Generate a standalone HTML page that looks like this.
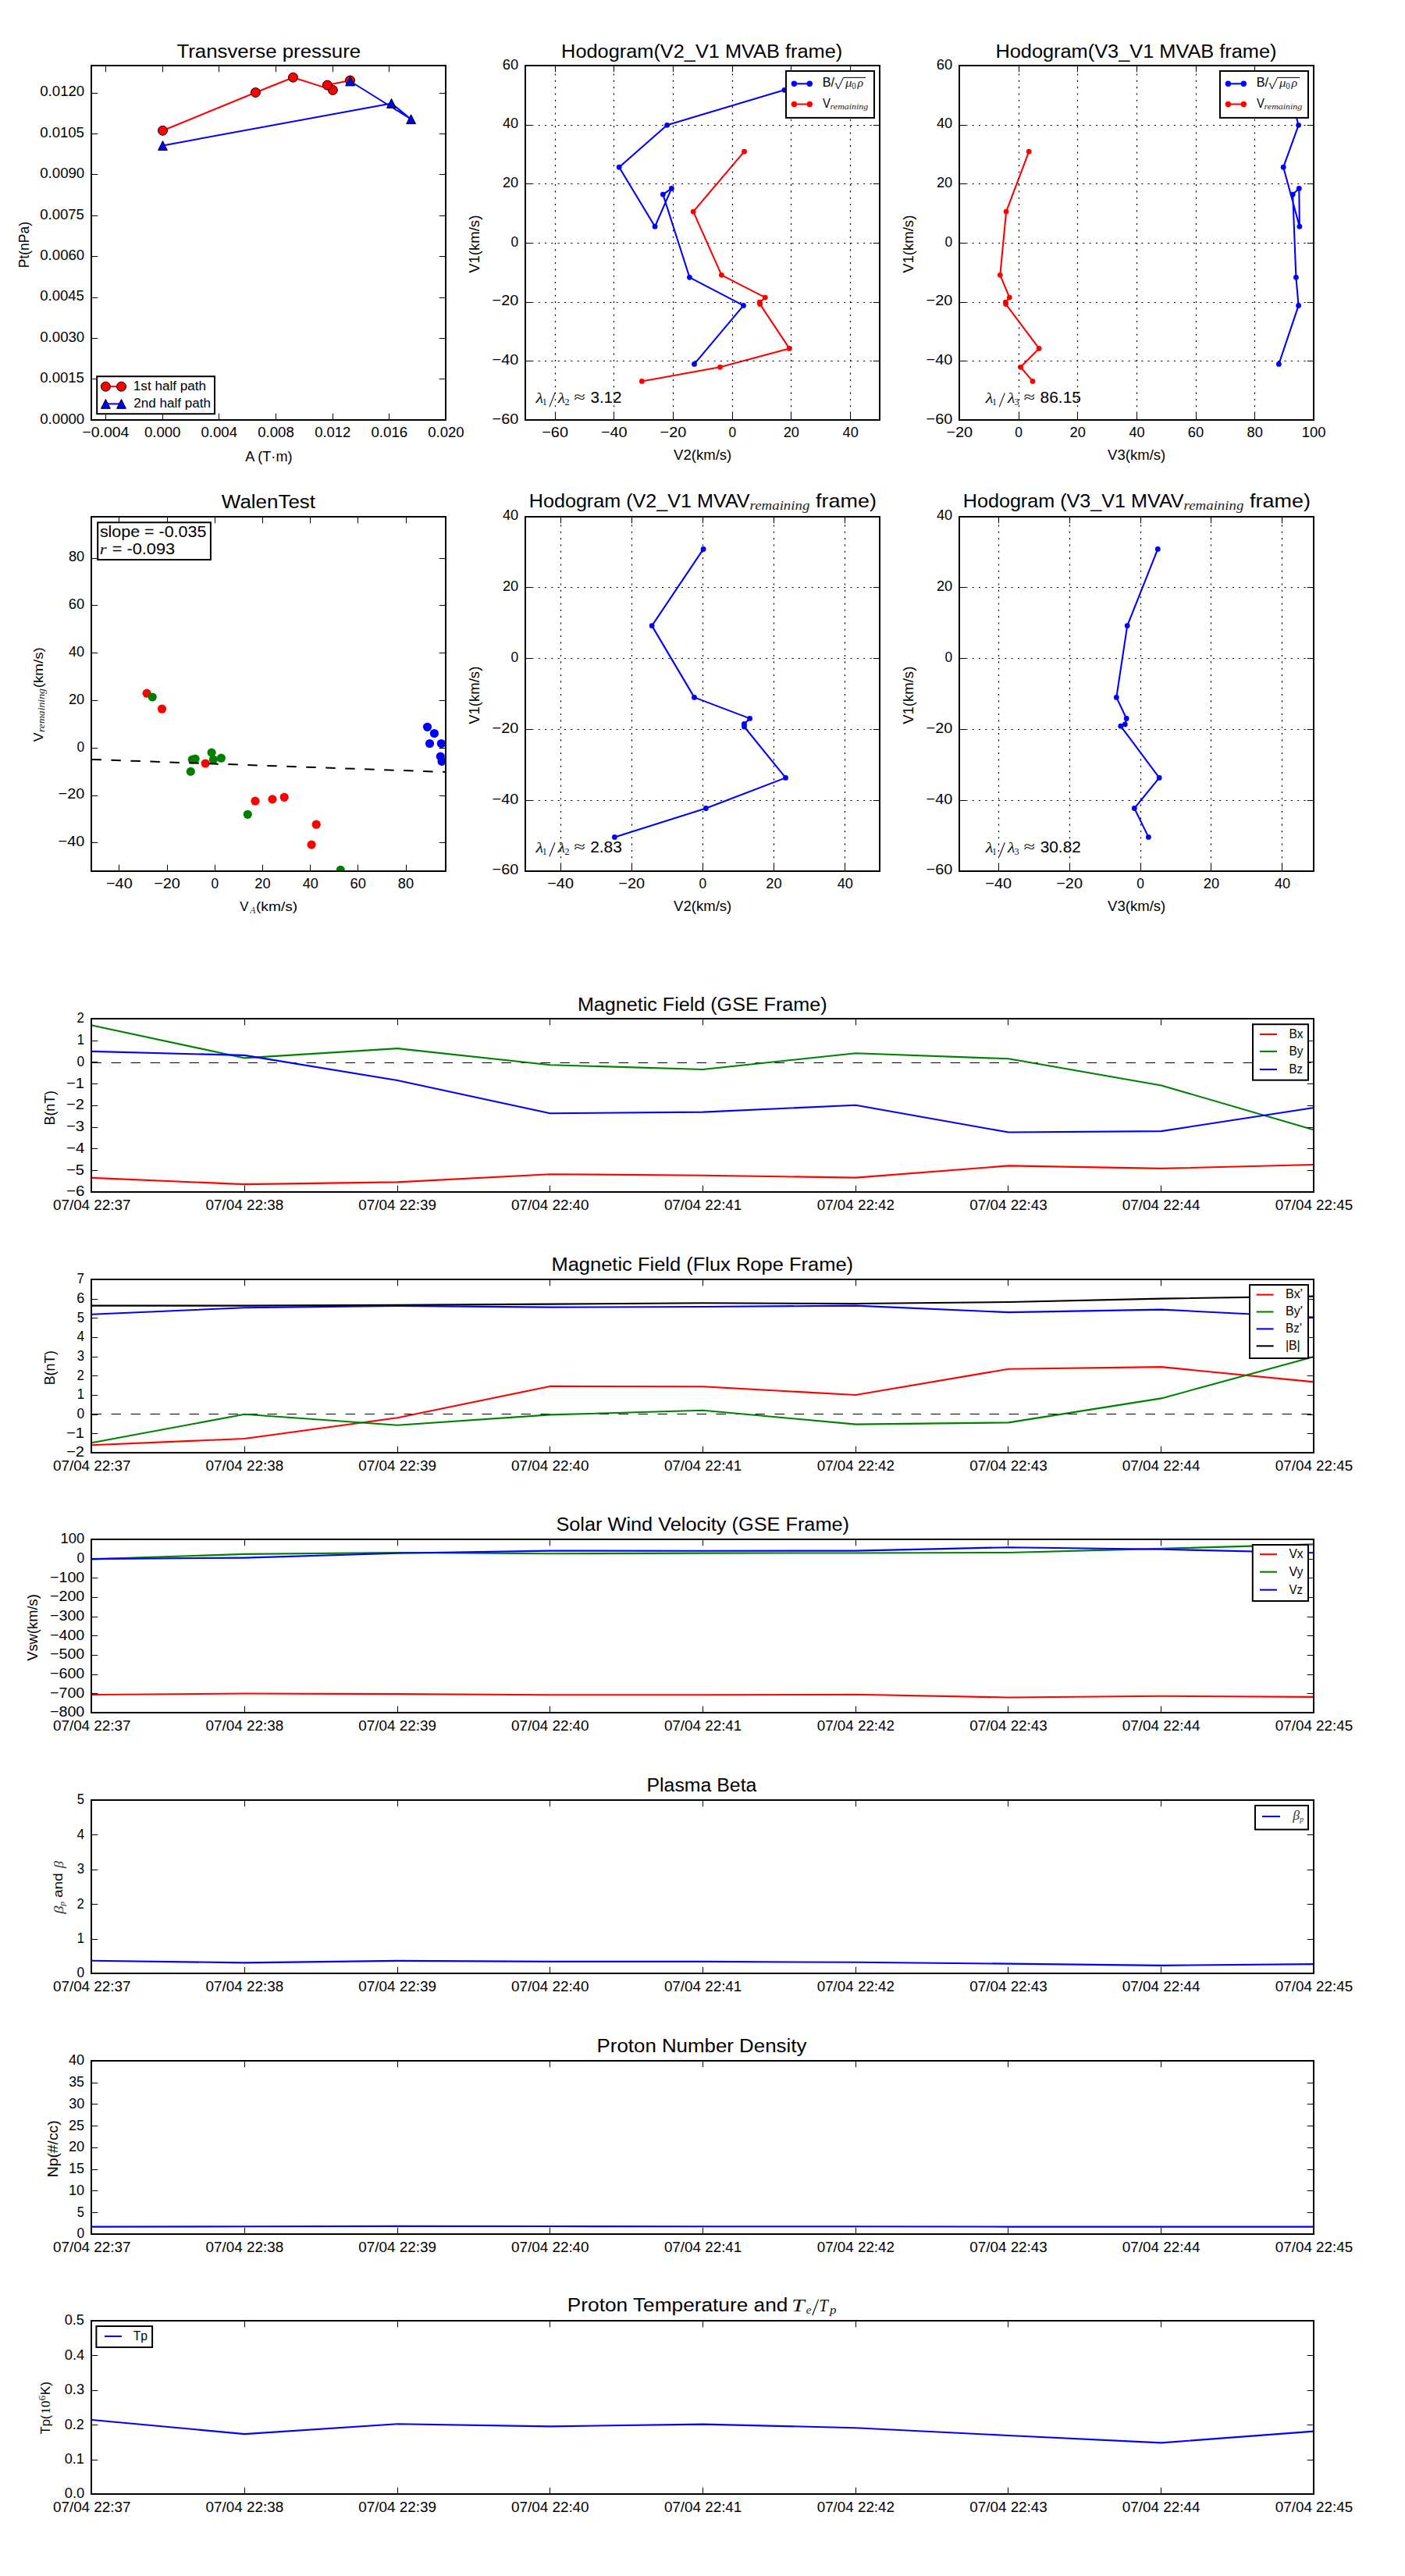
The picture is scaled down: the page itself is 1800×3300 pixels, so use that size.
<!DOCTYPE html>
<html><head><meta charset="utf-8"><title>Flux rope analysis</title><style>html,body{margin:0;padding:0;background:#fff}svg{display:block}</style></head><body>
<svg width="1800" height="3300" viewBox="0 0 1800 3300">
<rect width="1800" height="3300" fill="#fff"/>
<polyline points="208.5,167.3 327.4,118.5 375.5,99.2 426.4,115.4 419.4,109.1 448.5,103" fill="none" stroke="#ff0000" stroke-width="2" stroke-linecap="butt" stroke-linejoin="round"/>
<circle cx="208.5" cy="167.3" r="6" fill="#ff0000" stroke="#000" stroke-width="1"/>
<circle cx="327.4" cy="118.5" r="6" fill="#ff0000" stroke="#000" stroke-width="1"/>
<circle cx="375.5" cy="99.2" r="6" fill="#ff0000" stroke="#000" stroke-width="1"/>
<circle cx="426.4" cy="115.4" r="6" fill="#ff0000" stroke="#000" stroke-width="1"/>
<circle cx="419.4" cy="109.1" r="6" fill="#ff0000" stroke="#000" stroke-width="1"/>
<circle cx="448.5" cy="103" r="6" fill="#ff0000" stroke="#000" stroke-width="1"/>
<polyline points="208.5,186.5 501.5,132.4 526.6,152.7 448.6,104" fill="none" stroke="#0000ff" stroke-width="2" stroke-linecap="butt" stroke-linejoin="round"/>
<polygon points="208.5,180.6 202.6,192.4 214.4,192.4" fill="#0000ff" stroke="#000" stroke-width="1"/>
<polygon points="501.5,126.5 495.6,138.3 507.4,138.3" fill="#0000ff" stroke="#000" stroke-width="1"/>
<polygon points="526.6,146.8 520.7,158.6 532.5,158.6" fill="#0000ff" stroke="#000" stroke-width="1"/>
<polygon points="448.6,98.1 442.7,109.9 454.5,109.9" fill="#0000ff" stroke="#000" stroke-width="1"/>
<rect x="117" y="84" width="454" height="454" fill="none" stroke="#000" stroke-width="2"/>
<path d="M135.5 538V529.7M135.5 84V92.3" fill="none" stroke="#000" stroke-width="1"/>
<text x="105.41" y="559.7" textLength="59.91" lengthAdjust="spacingAndGlyphs" style="font-family:'Liberation Sans',sans-serif;font-size:18.32px" fill="#000">−0.004</text>
<path d="M208.5 538V529.7M208.5 84V92.3" fill="none" stroke="#000" stroke-width="1"/>
<text x="184.95" y="559.7" textLength="46.5" lengthAdjust="spacingAndGlyphs" style="font-family:'Liberation Sans',sans-serif;font-size:18.32px" fill="#000">0.000</text>
<path d="M280.5 538V529.7M280.5 84V92.3" fill="none" stroke="#000" stroke-width="1"/>
<text x="257.5" y="559.7" textLength="46.49" lengthAdjust="spacingAndGlyphs" style="font-family:'Liberation Sans',sans-serif;font-size:18.32px" fill="#000">0.004</text>
<path d="M353.5 538V529.7M353.5 84V92.3" fill="none" stroke="#000" stroke-width="1"/>
<text x="330.24" y="559.7" textLength="46.56" lengthAdjust="spacingAndGlyphs" style="font-family:'Liberation Sans',sans-serif;font-size:18.32px" fill="#000">0.008</text>
<path d="M426.5 538V529.7M426.5 84V92.3" fill="none" stroke="#000" stroke-width="1"/>
<text x="403.15" y="559.7" textLength="46.14" lengthAdjust="spacingAndGlyphs" style="font-family:'Liberation Sans',sans-serif;font-size:18.32px" fill="#000">0.012</text>
<path d="M498.5 538V529.7M498.5 84V92.3" fill="none" stroke="#000" stroke-width="1"/>
<text x="475.48" y="559.7" textLength="46.66" lengthAdjust="spacingAndGlyphs" style="font-family:'Liberation Sans',sans-serif;font-size:18.32px" fill="#000">0.016</text>
<path d="M571.5 538V529.7M571.5 84V92.3" fill="none" stroke="#000" stroke-width="1"/>
<text x="548.15" y="559.7" textLength="46.5" lengthAdjust="spacingAndGlyphs" style="font-family:'Liberation Sans',sans-serif;font-size:18.32px" fill="#000">0.020</text>
<path d="M117 538.5H125.3M571 538.5H562.7" fill="none" stroke="#000" stroke-width="1"/>
<text x="51.23" y="542.5" textLength="57.01" lengthAdjust="spacingAndGlyphs" style="font-family:'Liberation Sans',sans-serif;font-size:18.32px" fill="#000">0.0000</text>
<path d="M117 485.5H125.3M571 485.5H562.7" fill="none" stroke="#000" stroke-width="1"/>
<text x="51.23" y="490.12" textLength="56.71" lengthAdjust="spacingAndGlyphs" style="font-family:'Liberation Sans',sans-serif;font-size:18.32px" fill="#000">0.0015</text>
<path d="M117 433.5H125.3M571 433.5H562.7" fill="none" stroke="#000" stroke-width="1"/>
<text x="51.23" y="437.73" textLength="57.01" lengthAdjust="spacingAndGlyphs" style="font-family:'Liberation Sans',sans-serif;font-size:18.32px" fill="#000">0.0030</text>
<path d="M117 381.5H125.3M571 381.5H562.7" fill="none" stroke="#000" stroke-width="1"/>
<text x="51.23" y="385.35" textLength="56.71" lengthAdjust="spacingAndGlyphs" style="font-family:'Liberation Sans',sans-serif;font-size:18.32px" fill="#000">0.0045</text>
<path d="M117 328.5H125.3M571 328.5H562.7" fill="none" stroke="#000" stroke-width="1"/>
<text x="51.23" y="332.96" textLength="57.01" lengthAdjust="spacingAndGlyphs" style="font-family:'Liberation Sans',sans-serif;font-size:18.32px" fill="#000">0.0060</text>
<path d="M117 276.5H125.3M571 276.5H562.7" fill="none" stroke="#000" stroke-width="1"/>
<text x="51.23" y="280.58" textLength="56.71" lengthAdjust="spacingAndGlyphs" style="font-family:'Liberation Sans',sans-serif;font-size:18.32px" fill="#000">0.0075</text>
<path d="M117 223.5H125.3M571 223.5H562.7" fill="none" stroke="#000" stroke-width="1"/>
<text x="51.23" y="228.19" textLength="57.01" lengthAdjust="spacingAndGlyphs" style="font-family:'Liberation Sans',sans-serif;font-size:18.32px" fill="#000">0.0090</text>
<path d="M117 171.5H125.3M571 171.5H562.7" fill="none" stroke="#000" stroke-width="1"/>
<text x="51.23" y="175.81" textLength="56.71" lengthAdjust="spacingAndGlyphs" style="font-family:'Liberation Sans',sans-serif;font-size:18.32px" fill="#000">0.0105</text>
<path d="M117 119.5H125.3M571 119.5H562.7" fill="none" stroke="#000" stroke-width="1"/>
<text x="51.23" y="123.42" textLength="57.01" lengthAdjust="spacingAndGlyphs" style="font-family:'Liberation Sans',sans-serif;font-size:18.32px" fill="#000">0.0120</text>
<text x="226.41" y="73.8" textLength="235.74" lengthAdjust="spacingAndGlyphs" style="font-family:'Liberation Sans',sans-serif;font-size:24.15px" fill="#000">Transverse pressure</text>
<text x="314.14" y="590.9" textLength="60.4" lengthAdjust="spacingAndGlyphs" style="font-family:'Liberation Sans',sans-serif;font-size:18.32px" fill="#000">A (T·m)</text>
<text x="0" y="0" transform="translate(37 343.22) rotate(-90)" textLength="59.29" lengthAdjust="spacingAndGlyphs" style="font-family:'Liberation Sans',sans-serif;font-size:18.32px" fill="#000">Pt(nPa)</text>
<rect x="124.2" y="482.2" width="150.8" height="48" fill="#fff" stroke="#000" stroke-width="2"/>
<polyline points="135.4,495.2 155.5,495.2" fill="none" stroke="#ff0000" stroke-width="2" stroke-linecap="butt" stroke-linejoin="round"/>
<circle cx="135.4" cy="495.2" r="6" fill="#ff0000" stroke="#000" stroke-width="1"/>
<circle cx="155.5" cy="495.2" r="6" fill="#ff0000" stroke="#000" stroke-width="1"/>
<polyline points="135.4,517.4 155.5,517.4" fill="none" stroke="#0000ff" stroke-width="2" stroke-linecap="butt" stroke-linejoin="round"/>
<polygon points="135.4,511.5 129.5,523.3 141.3,523.3" fill="#0000ff" stroke="#000" stroke-width="1"/>
<polygon points="155.5,511.5 149.6,523.3 161.4,523.3" fill="#0000ff" stroke="#000" stroke-width="1"/>
<text x="170.8" y="500.1" textLength="93.29" lengthAdjust="spacingAndGlyphs" style="font-family:'Liberation Sans',sans-serif;font-size:17.02px" fill="#000">1st half path</text>
<text x="171.24" y="522.3" textLength="98.64" lengthAdjust="spacingAndGlyphs" style="font-family:'Liberation Sans',sans-serif;font-size:17.02px" fill="#000">2nd half path</text>
<polyline points="1004.9,115.3 854.6,160.3 793.2,214.2 839.1,290.2 860.4,241.4 849.4,249.1 883.4,355.3 952.5,391.4 889.5,466.4" fill="none" stroke="#0000ff" stroke-width="2.08" stroke-linecap="butt" stroke-linejoin="round"/>
<circle cx="1004.9" cy="115.3" r="3.4" fill="#0000ff" stroke="none" stroke-width="1"/>
<circle cx="854.6" cy="160.3" r="3.4" fill="#0000ff" stroke="none" stroke-width="1"/>
<circle cx="793.2" cy="214.2" r="3.4" fill="#0000ff" stroke="none" stroke-width="1"/>
<circle cx="839.1" cy="290.2" r="3.4" fill="#0000ff" stroke="none" stroke-width="1"/>
<circle cx="860.4" cy="241.4" r="3.4" fill="#0000ff" stroke="none" stroke-width="1"/>
<circle cx="849.4" cy="249.1" r="3.4" fill="#0000ff" stroke="none" stroke-width="1"/>
<circle cx="883.4" cy="355.3" r="3.4" fill="#0000ff" stroke="none" stroke-width="1"/>
<circle cx="952.5" cy="391.4" r="3.4" fill="#0000ff" stroke="none" stroke-width="1"/>
<circle cx="889.5" cy="466.4" r="3.4" fill="#0000ff" stroke="none" stroke-width="1"/>
<polyline points="953.5,194.2 888.2,271.1 924.4,352.3 980.3,381.1 973.3,387.2 973.6,389.6 1011.3,446.4 922.5,470.3 822.3,488.4" fill="none" stroke="#ff0000" stroke-width="2.08" stroke-linecap="butt" stroke-linejoin="round"/>
<circle cx="953.5" cy="194.2" r="3.4" fill="#ff0000" stroke="none" stroke-width="1"/>
<circle cx="888.2" cy="271.1" r="3.4" fill="#ff0000" stroke="none" stroke-width="1"/>
<circle cx="924.4" cy="352.3" r="3.4" fill="#ff0000" stroke="none" stroke-width="1"/>
<circle cx="980.3" cy="381.1" r="3.4" fill="#ff0000" stroke="none" stroke-width="1"/>
<circle cx="973.3" cy="387.2" r="3.4" fill="#ff0000" stroke="none" stroke-width="1"/>
<circle cx="973.6" cy="389.6" r="3.4" fill="#ff0000" stroke="none" stroke-width="1"/>
<circle cx="1011.3" cy="446.4" r="3.4" fill="#ff0000" stroke="none" stroke-width="1"/>
<circle cx="922.5" cy="470.3" r="3.4" fill="#ff0000" stroke="none" stroke-width="1"/>
<circle cx="822.3" cy="488.4" r="3.4" fill="#ff0000" stroke="none" stroke-width="1"/>
<path d="M711.5 538V84" fill="none" stroke="#000" stroke-width="1.2" stroke-dasharray="2.08 6.25"/>
<path d="M786.5 538V84" fill="none" stroke="#000" stroke-width="1.2" stroke-dasharray="2.08 6.25"/>
<path d="M862.5 538V84" fill="none" stroke="#000" stroke-width="1.2" stroke-dasharray="2.08 6.25"/>
<path d="M938.5 538V84" fill="none" stroke="#000" stroke-width="1.2" stroke-dasharray="2.08 6.25"/>
<path d="M1013.5 538V84" fill="none" stroke="#000" stroke-width="1.2" stroke-dasharray="2.08 6.25"/>
<path d="M1089.5 538V84" fill="none" stroke="#000" stroke-width="1.2" stroke-dasharray="2.08 6.25"/>
<path d="M673 462.5H1127" fill="none" stroke="#000" stroke-width="1.2" stroke-dasharray="2.08 6.25"/>
<path d="M673 387.5H1127" fill="none" stroke="#000" stroke-width="1.2" stroke-dasharray="2.08 6.25"/>
<path d="M673 311.5H1127" fill="none" stroke="#000" stroke-width="1.2" stroke-dasharray="2.08 6.25"/>
<path d="M673 235.5H1127" fill="none" stroke="#000" stroke-width="1.2" stroke-dasharray="2.08 6.25"/>
<path d="M673 160.5H1127" fill="none" stroke="#000" stroke-width="1.2" stroke-dasharray="2.08 6.25"/>
<rect x="673" y="84" width="454" height="454" fill="none" stroke="#000" stroke-width="2"/>
<path d="M711.5 538V529.7M711.5 84V92.3" fill="none" stroke="#000" stroke-width="1"/>
<text x="694.26" y="559.7" textLength="33.73" lengthAdjust="spacingAndGlyphs" style="font-family:'Liberation Sans',sans-serif;font-size:18.32px" fill="#000">−60</text>
<path d="M786.5 538V529.7M786.5 84V92.3" fill="none" stroke="#000" stroke-width="1"/>
<text x="769.93" y="559.7" textLength="33.73" lengthAdjust="spacingAndGlyphs" style="font-family:'Liberation Sans',sans-serif;font-size:18.32px" fill="#000">−40</text>
<path d="M862.5 538V529.7M862.5 84V92.3" fill="none" stroke="#000" stroke-width="1"/>
<text x="845.6" y="559.7" textLength="33.73" lengthAdjust="spacingAndGlyphs" style="font-family:'Liberation Sans',sans-serif;font-size:18.32px" fill="#000">−20</text>
<path d="M938.5 538V529.7M938.5 84V92.3" fill="none" stroke="#000" stroke-width="1"/>
<text x="933.4" y="559.7" textLength="9.67" lengthAdjust="spacingAndGlyphs" style="font-family:'Liberation Sans',sans-serif;font-size:18.32px" fill="#000">0</text>
<path d="M1013.5 538V529.7M1013.5 84V92.3" fill="none" stroke="#000" stroke-width="1"/>
<text x="1003.64" y="559.7" textLength="20.32" lengthAdjust="spacingAndGlyphs" style="font-family:'Liberation Sans',sans-serif;font-size:18.32px" fill="#000">20</text>
<path d="M1089.5 538V529.7M1089.5 84V92.3" fill="none" stroke="#000" stroke-width="1"/>
<text x="1079.6" y="559.7" textLength="20.22" lengthAdjust="spacingAndGlyphs" style="font-family:'Liberation Sans',sans-serif;font-size:18.32px" fill="#000">40</text>
<path d="M673 538.5H681.3M1127 538.5H1118.7" fill="none" stroke="#000" stroke-width="1"/>
<text x="630.55" y="542.7" textLength="33.73" lengthAdjust="spacingAndGlyphs" style="font-family:'Liberation Sans',sans-serif;font-size:18.32px" fill="#000">−60</text>
<path d="M673 462.5H681.3M1127 462.5H1118.7" fill="none" stroke="#000" stroke-width="1"/>
<text x="630.55" y="467.03" textLength="33.73" lengthAdjust="spacingAndGlyphs" style="font-family:'Liberation Sans',sans-serif;font-size:18.32px" fill="#000">−40</text>
<path d="M673 387.5H681.3M1127 387.5H1118.7" fill="none" stroke="#000" stroke-width="1"/>
<text x="630.55" y="391.37" textLength="33.73" lengthAdjust="spacingAndGlyphs" style="font-family:'Liberation Sans',sans-serif;font-size:18.32px" fill="#000">−20</text>
<path d="M673 311.5H681.3M1127 311.5H1118.7" fill="none" stroke="#000" stroke-width="1"/>
<text x="654.51" y="315.7" textLength="9.67" lengthAdjust="spacingAndGlyphs" style="font-family:'Liberation Sans',sans-serif;font-size:18.32px" fill="#000">0</text>
<path d="M673 235.5H681.3M1127 235.5H1118.7" fill="none" stroke="#000" stroke-width="1"/>
<text x="643.89" y="240.03" textLength="20.32" lengthAdjust="spacingAndGlyphs" style="font-family:'Liberation Sans',sans-serif;font-size:18.32px" fill="#000">20</text>
<path d="M673 160.5H681.3M1127 160.5H1118.7" fill="none" stroke="#000" stroke-width="1"/>
<text x="643.99" y="164.37" textLength="20.22" lengthAdjust="spacingAndGlyphs" style="font-family:'Liberation Sans',sans-serif;font-size:18.32px" fill="#000">40</text>
<path d="M673 84.5H681.3M1127 84.5H1118.7" fill="none" stroke="#000" stroke-width="1"/>
<text x="643.83" y="88.7" textLength="20.4" lengthAdjust="spacingAndGlyphs" style="font-family:'Liberation Sans',sans-serif;font-size:18.32px" fill="#000">60</text>
<rect x="1007" y="91" width="113" height="59.9" fill="#fff" stroke="#000" stroke-width="2"/>
<polyline points="1017.4,107.3 1037.3,107.3" fill="none" stroke="#0000ff" stroke-width="2.08" stroke-linecap="butt" stroke-linejoin="round"/>
<circle cx="1017.4" cy="107.3" r="3.7" fill="#0000ff" stroke="none" stroke-width="1"/>
<circle cx="1037.3" cy="107.3" r="3.7" fill="#0000ff" stroke="none" stroke-width="1"/>
<polyline points="1017.4,133.5 1037.3,133.5" fill="none" stroke="#ff0000" stroke-width="2.08" stroke-linecap="butt" stroke-linejoin="round"/>
<circle cx="1017.4" cy="133.5" r="3.7" fill="#ff0000" stroke="none" stroke-width="1"/>
<circle cx="1037.3" cy="133.5" r="3.7" fill="#ff0000" stroke="none" stroke-width="1"/>
<text x="1053.67" y="111" textLength="15.33" lengthAdjust="spacingAndGlyphs" style="font-family:'Liberation Sans',sans-serif;font-size:16.2px" fill="#000">B/</text>
<path d="M1069.7 107.6L1071.2 106.8L1073.6 114L1080.6 99.4H1109" fill="none" stroke="#000" stroke-width="1"/>
<text x="1083.12" y="111" textLength="8.44" lengthAdjust="spacingAndGlyphs" style="font-family:'Liberation Serif',sans-serif;font-size:15px;font-style:italic" fill="#222">μ</text>
<text x="1091.29" y="113.6" textLength="5.43" lengthAdjust="spacingAndGlyphs" style="font-family:'Liberation Serif',sans-serif;font-size:11.5px" fill="#222">0</text>
<text x="1098.5" y="111" textLength="7.58" lengthAdjust="spacingAndGlyphs" style="font-family:'Liberation Serif',sans-serif;font-size:15px;font-style:italic" fill="#222">ρ</text>
<text x="1054.03" y="138" textLength="9.93" lengthAdjust="spacingAndGlyphs" style="font-family:'Liberation Sans',sans-serif;font-size:16.2px" fill="#000">V</text>
<text x="1063.62" y="139.9" textLength="48.73" lengthAdjust="spacingAndGlyphs" style="font-family:'Liberation Serif',sans-serif;font-size:11.2px;font-style:italic" fill="#222">remaining</text>
<text x="686.55" y="515.9" textLength="9.71" lengthAdjust="spacingAndGlyphs" style="font-family:'Liberation Serif',sans-serif;font-size:19px;font-style:italic" fill="#111">λ</text>
<text x="694.65" y="518.7" textLength="5.97" lengthAdjust="spacingAndGlyphs" style="font-family:'Liberation Serif',sans-serif;font-size:12.5px" fill="#111">1</text>
<path d="M703.9 521.4L711 503.4" fill="none" stroke="#111" stroke-width="1.1"/>
<text x="714.72" y="515.9" textLength="9.31" lengthAdjust="spacingAndGlyphs" style="font-family:'Liberation Serif',sans-serif;font-size:19px;font-style:italic" fill="#111">λ</text>
<text x="723.34" y="518.7" textLength="6.36" lengthAdjust="spacingAndGlyphs" style="font-family:'Liberation Serif',sans-serif;font-size:12.5px" fill="#111">2</text>
<text x="735.26" y="515.3" textLength="14.62" lengthAdjust="spacingAndGlyphs" style="font-family:'Liberation Serif',sans-serif;font-size:19px" fill="#111">≈</text>
<text x="756.41" y="515.9" textLength="40.16" lengthAdjust="spacingAndGlyphs" style="font-family:'Liberation Sans',sans-serif;font-size:19.92px" fill="#000">3.12</text>
<text x="719.1" y="73.8" textLength="360.09" lengthAdjust="spacingAndGlyphs" style="font-family:'Liberation Sans',sans-serif;font-size:24.15px" fill="#000">Hodogram(V2_V1 MVAB frame)</text>
<text x="863.12" y="588.8" textLength="74.13" lengthAdjust="spacingAndGlyphs" style="font-family:'Liberation Sans',sans-serif;font-size:18.32px" fill="#000">V2(km/s)</text>
<text x="0" y="0" transform="translate(613.8 349.83) rotate(-90)" textLength="74.13" lengthAdjust="spacingAndGlyphs" style="font-family:'Liberation Sans',sans-serif;font-size:18.32px" fill="#000">V1(km/s)</text>
<polyline points="1651,115.3 1663.6,160.3 1644.2,214.2 1664.9,290.2 1664.3,241.4 1656.2,249.1 1660.4,355.3 1663.6,391.4 1638.4,466.4" fill="none" stroke="#0000ff" stroke-width="2.08" stroke-linecap="butt" stroke-linejoin="round"/>
<circle cx="1651" cy="115.3" r="3.4" fill="#0000ff" stroke="none" stroke-width="1"/>
<circle cx="1663.6" cy="160.3" r="3.4" fill="#0000ff" stroke="none" stroke-width="1"/>
<circle cx="1644.2" cy="214.2" r="3.4" fill="#0000ff" stroke="none" stroke-width="1"/>
<circle cx="1664.9" cy="290.2" r="3.4" fill="#0000ff" stroke="none" stroke-width="1"/>
<circle cx="1664.3" cy="241.4" r="3.4" fill="#0000ff" stroke="none" stroke-width="1"/>
<circle cx="1656.2" cy="249.1" r="3.4" fill="#0000ff" stroke="none" stroke-width="1"/>
<circle cx="1660.4" cy="355.3" r="3.4" fill="#0000ff" stroke="none" stroke-width="1"/>
<circle cx="1663.6" cy="391.4" r="3.4" fill="#0000ff" stroke="none" stroke-width="1"/>
<circle cx="1638.4" cy="466.4" r="3.4" fill="#0000ff" stroke="none" stroke-width="1"/>
<polyline points="1318.2,194.2 1289.1,271.1 1281.3,352.3 1293.3,381.1 1288.3,387.2 1288.6,389.6 1331.1,446.4 1307.5,470.3 1323,488.4" fill="none" stroke="#ff0000" stroke-width="2.08" stroke-linecap="butt" stroke-linejoin="round"/>
<circle cx="1318.2" cy="194.2" r="3.4" fill="#ff0000" stroke="none" stroke-width="1"/>
<circle cx="1289.1" cy="271.1" r="3.4" fill="#ff0000" stroke="none" stroke-width="1"/>
<circle cx="1281.3" cy="352.3" r="3.4" fill="#ff0000" stroke="none" stroke-width="1"/>
<circle cx="1293.3" cy="381.1" r="3.4" fill="#ff0000" stroke="none" stroke-width="1"/>
<circle cx="1288.3" cy="387.2" r="3.4" fill="#ff0000" stroke="none" stroke-width="1"/>
<circle cx="1288.6" cy="389.6" r="3.4" fill="#ff0000" stroke="none" stroke-width="1"/>
<circle cx="1331.1" cy="446.4" r="3.4" fill="#ff0000" stroke="none" stroke-width="1"/>
<circle cx="1307.5" cy="470.3" r="3.4" fill="#ff0000" stroke="none" stroke-width="1"/>
<circle cx="1323" cy="488.4" r="3.4" fill="#ff0000" stroke="none" stroke-width="1"/>
<path d="M1305.5 538V84" fill="none" stroke="#000" stroke-width="1.2" stroke-dasharray="2.08 6.25"/>
<path d="M1380.5 538V84" fill="none" stroke="#000" stroke-width="1.2" stroke-dasharray="2.08 6.25"/>
<path d="M1456.5 538V84" fill="none" stroke="#000" stroke-width="1.2" stroke-dasharray="2.08 6.25"/>
<path d="M1532.5 538V84" fill="none" stroke="#000" stroke-width="1.2" stroke-dasharray="2.08 6.25"/>
<path d="M1607.5 538V84" fill="none" stroke="#000" stroke-width="1.2" stroke-dasharray="2.08 6.25"/>
<path d="M1229 462.5H1683" fill="none" stroke="#000" stroke-width="1.2" stroke-dasharray="2.08 6.25"/>
<path d="M1229 387.5H1683" fill="none" stroke="#000" stroke-width="1.2" stroke-dasharray="2.08 6.25"/>
<path d="M1229 311.5H1683" fill="none" stroke="#000" stroke-width="1.2" stroke-dasharray="2.08 6.25"/>
<path d="M1229 235.5H1683" fill="none" stroke="#000" stroke-width="1.2" stroke-dasharray="2.08 6.25"/>
<path d="M1229 160.5H1683" fill="none" stroke="#000" stroke-width="1.2" stroke-dasharray="2.08 6.25"/>
<rect x="1229" y="84" width="454" height="454" fill="none" stroke="#000" stroke-width="2"/>
<path d="M1229.5 538V529.7M1229.5 84V92.3" fill="none" stroke="#000" stroke-width="1"/>
<text x="1212.43" y="559.7" textLength="33.73" lengthAdjust="spacingAndGlyphs" style="font-family:'Liberation Sans',sans-serif;font-size:18.32px" fill="#000">−20</text>
<path d="M1305.5 538V529.7M1305.5 84V92.3" fill="none" stroke="#000" stroke-width="1"/>
<text x="1300.23" y="559.7" textLength="9.67" lengthAdjust="spacingAndGlyphs" style="font-family:'Liberation Sans',sans-serif;font-size:18.32px" fill="#000">0</text>
<path d="M1380.5 538V529.7M1380.5 84V92.3" fill="none" stroke="#000" stroke-width="1"/>
<text x="1370.47" y="559.7" textLength="20.32" lengthAdjust="spacingAndGlyphs" style="font-family:'Liberation Sans',sans-serif;font-size:18.32px" fill="#000">20</text>
<path d="M1456.5 538V529.7M1456.5 84V92.3" fill="none" stroke="#000" stroke-width="1"/>
<text x="1446.44" y="559.7" textLength="20.22" lengthAdjust="spacingAndGlyphs" style="font-family:'Liberation Sans',sans-serif;font-size:18.32px" fill="#000">40</text>
<path d="M1532.5 538V529.7M1532.5 84V92.3" fill="none" stroke="#000" stroke-width="1"/>
<text x="1521.76" y="559.7" textLength="20.4" lengthAdjust="spacingAndGlyphs" style="font-family:'Liberation Sans',sans-serif;font-size:18.32px" fill="#000">60</text>
<path d="M1607.5 538V529.7M1607.5 84V92.3" fill="none" stroke="#000" stroke-width="1"/>
<text x="1597.55" y="559.7" textLength="20.28" lengthAdjust="spacingAndGlyphs" style="font-family:'Liberation Sans',sans-serif;font-size:18.32px" fill="#000">80</text>
<path d="M1683.5 538V529.7M1683.5 84V92.3" fill="none" stroke="#000" stroke-width="1"/>
<text x="1667.71" y="559.7" textLength="30.71" lengthAdjust="spacingAndGlyphs" style="font-family:'Liberation Sans',sans-serif;font-size:18.32px" fill="#000">100</text>
<path d="M1229 538.5H1237.3M1683 538.5H1674.7" fill="none" stroke="#000" stroke-width="1"/>
<text x="1186.55" y="542.7" textLength="33.73" lengthAdjust="spacingAndGlyphs" style="font-family:'Liberation Sans',sans-serif;font-size:18.32px" fill="#000">−60</text>
<path d="M1229 462.5H1237.3M1683 462.5H1674.7" fill="none" stroke="#000" stroke-width="1"/>
<text x="1186.55" y="467.03" textLength="33.73" lengthAdjust="spacingAndGlyphs" style="font-family:'Liberation Sans',sans-serif;font-size:18.32px" fill="#000">−40</text>
<path d="M1229 387.5H1237.3M1683 387.5H1674.7" fill="none" stroke="#000" stroke-width="1"/>
<text x="1186.55" y="391.37" textLength="33.73" lengthAdjust="spacingAndGlyphs" style="font-family:'Liberation Sans',sans-serif;font-size:18.32px" fill="#000">−20</text>
<path d="M1229 311.5H1237.3M1683 311.5H1674.7" fill="none" stroke="#000" stroke-width="1"/>
<text x="1210.51" y="315.7" textLength="9.67" lengthAdjust="spacingAndGlyphs" style="font-family:'Liberation Sans',sans-serif;font-size:18.32px" fill="#000">0</text>
<path d="M1229 235.5H1237.3M1683 235.5H1674.7" fill="none" stroke="#000" stroke-width="1"/>
<text x="1199.89" y="240.03" textLength="20.32" lengthAdjust="spacingAndGlyphs" style="font-family:'Liberation Sans',sans-serif;font-size:18.32px" fill="#000">20</text>
<path d="M1229 160.5H1237.3M1683 160.5H1674.7" fill="none" stroke="#000" stroke-width="1"/>
<text x="1199.99" y="164.37" textLength="20.22" lengthAdjust="spacingAndGlyphs" style="font-family:'Liberation Sans',sans-serif;font-size:18.32px" fill="#000">40</text>
<path d="M1229 84.5H1237.3M1683 84.5H1674.7" fill="none" stroke="#000" stroke-width="1"/>
<text x="1199.83" y="88.7" textLength="20.4" lengthAdjust="spacingAndGlyphs" style="font-family:'Liberation Sans',sans-serif;font-size:18.32px" fill="#000">60</text>
<rect x="1563" y="91" width="113" height="59.9" fill="#fff" stroke="#000" stroke-width="2"/>
<polyline points="1573.4,107.3 1593.3,107.3" fill="none" stroke="#0000ff" stroke-width="2.08" stroke-linecap="butt" stroke-linejoin="round"/>
<circle cx="1573.4" cy="107.3" r="3.7" fill="#0000ff" stroke="none" stroke-width="1"/>
<circle cx="1593.3" cy="107.3" r="3.7" fill="#0000ff" stroke="none" stroke-width="1"/>
<polyline points="1573.4,133.5 1593.3,133.5" fill="none" stroke="#ff0000" stroke-width="2.08" stroke-linecap="butt" stroke-linejoin="round"/>
<circle cx="1573.4" cy="133.5" r="3.7" fill="#ff0000" stroke="none" stroke-width="1"/>
<circle cx="1593.3" cy="133.5" r="3.7" fill="#ff0000" stroke="none" stroke-width="1"/>
<text x="1609.67" y="111" textLength="15.33" lengthAdjust="spacingAndGlyphs" style="font-family:'Liberation Sans',sans-serif;font-size:16.2px" fill="#000">B/</text>
<path d="M1625.7 107.6L1627.2 106.8L1629.6 114L1636.6 99.4H1665" fill="none" stroke="#000" stroke-width="1"/>
<text x="1639.12" y="111" textLength="8.44" lengthAdjust="spacingAndGlyphs" style="font-family:'Liberation Serif',sans-serif;font-size:15px;font-style:italic" fill="#222">μ</text>
<text x="1647.29" y="113.6" textLength="5.43" lengthAdjust="spacingAndGlyphs" style="font-family:'Liberation Serif',sans-serif;font-size:11.5px" fill="#222">0</text>
<text x="1654.5" y="111" textLength="7.58" lengthAdjust="spacingAndGlyphs" style="font-family:'Liberation Serif',sans-serif;font-size:15px;font-style:italic" fill="#222">ρ</text>
<text x="1610.03" y="138" textLength="9.93" lengthAdjust="spacingAndGlyphs" style="font-family:'Liberation Sans',sans-serif;font-size:16.2px" fill="#000">V</text>
<text x="1619.62" y="139.9" textLength="48.73" lengthAdjust="spacingAndGlyphs" style="font-family:'Liberation Serif',sans-serif;font-size:11.2px;font-style:italic" fill="#222">remaining</text>
<text x="1262.85" y="515.9" textLength="9.71" lengthAdjust="spacingAndGlyphs" style="font-family:'Liberation Serif',sans-serif;font-size:19px;font-style:italic" fill="#111">λ</text>
<text x="1270.95" y="518.7" textLength="5.97" lengthAdjust="spacingAndGlyphs" style="font-family:'Liberation Serif',sans-serif;font-size:12.5px" fill="#111">1</text>
<path d="M1280.2 521.4L1287.3 503.4" fill="none" stroke="#111" stroke-width="1.1"/>
<text x="1291.02" y="515.9" textLength="9.31" lengthAdjust="spacingAndGlyphs" style="font-family:'Liberation Serif',sans-serif;font-size:19px;font-style:italic" fill="#111">λ</text>
<text x="1299.61" y="518.7" textLength="6.17" lengthAdjust="spacingAndGlyphs" style="font-family:'Liberation Serif',sans-serif;font-size:12.5px" fill="#111">3</text>
<text x="1311.56" y="515.3" textLength="14.62" lengthAdjust="spacingAndGlyphs" style="font-family:'Liberation Serif',sans-serif;font-size:19px" fill="#111">≈</text>
<text x="1332.59" y="515.9" textLength="52.42" lengthAdjust="spacingAndGlyphs" style="font-family:'Liberation Sans',sans-serif;font-size:19.92px" fill="#000">86.15</text>
<text x="1275.4" y="73.8" textLength="360.09" lengthAdjust="spacingAndGlyphs" style="font-family:'Liberation Sans',sans-serif;font-size:24.15px" fill="#000">Hodogram(V3_V1 MVAB frame)</text>
<text x="1419.12" y="588.8" textLength="74.13" lengthAdjust="spacingAndGlyphs" style="font-family:'Liberation Sans',sans-serif;font-size:18.32px" fill="#000">V3(km/s)</text>
<text x="0" y="0" transform="translate(1169.8 349.83) rotate(-90)" textLength="74.13" lengthAdjust="spacingAndGlyphs" style="font-family:'Liberation Sans',sans-serif;font-size:18.32px" fill="#000">V1(km/s)</text>
<clipPath id="c4"><rect x="117" y="662" width="454" height="454"/></clipPath>
<g clip-path="url(#c4)">
<circle cx="188.1" cy="888.2" r="5.6" fill="#ff0000" stroke="none" stroke-width="1"/>
<circle cx="207.5" cy="908.2" r="5.6" fill="#ff0000" stroke="none" stroke-width="1"/>
<circle cx="263.1" cy="978" r="5.6" fill="#ff0000" stroke="none" stroke-width="1"/>
<circle cx="327" cy="1026.2" r="5.6" fill="#ff0000" stroke="none" stroke-width="1"/>
<circle cx="349" cy="1023.9" r="5.6" fill="#ff0000" stroke="none" stroke-width="1"/>
<circle cx="364.2" cy="1021.3" r="5.6" fill="#ff0000" stroke="none" stroke-width="1"/>
<circle cx="405.2" cy="1056.2" r="5.6" fill="#ff0000" stroke="none" stroke-width="1"/>
<circle cx="399.1" cy="1082.1" r="5.6" fill="#ff0000" stroke="none" stroke-width="1"/>
<circle cx="195.2" cy="893" r="5.6" fill="#008000" stroke="none" stroke-width="1"/>
<circle cx="246.3" cy="973.2" r="5.6" fill="#008000" stroke="none" stroke-width="1"/>
<circle cx="250.1" cy="972.2" r="5.6" fill="#008000" stroke="none" stroke-width="1"/>
<circle cx="244.3" cy="988.4" r="5.6" fill="#008000" stroke="none" stroke-width="1"/>
<circle cx="271.1" cy="964.1" r="5.6" fill="#008000" stroke="none" stroke-width="1"/>
<circle cx="273.4" cy="973.2" r="5.6" fill="#008000" stroke="none" stroke-width="1"/>
<circle cx="283.4" cy="971.2" r="5.6" fill="#008000" stroke="none" stroke-width="1"/>
<circle cx="317.3" cy="1043.3" r="5.6" fill="#008000" stroke="none" stroke-width="1"/>
<circle cx="436.3" cy="1114.4" r="5.6" fill="#008000" stroke="none" stroke-width="1"/>
<circle cx="547.5" cy="931.3" r="5.6" fill="#0000ff" stroke="none" stroke-width="1"/>
<circle cx="556.4" cy="939.5" r="5.6" fill="#0000ff" stroke="none" stroke-width="1"/>
<circle cx="550.5" cy="952.5" r="5.6" fill="#0000ff" stroke="none" stroke-width="1"/>
<circle cx="565.4" cy="952.5" r="5.6" fill="#0000ff" stroke="none" stroke-width="1"/>
<circle cx="564.3" cy="969" r="5.6" fill="#0000ff" stroke="none" stroke-width="1"/>
<circle cx="566.1" cy="975.4" r="5.6" fill="#0000ff" stroke="none" stroke-width="1"/>
<polyline points="117.4,972.9 571,989" fill="none" stroke="#000" stroke-width="2" stroke-linecap="butt" stroke-linejoin="round" stroke-dasharray="12.5 12.5"/>
</g>
<rect x="117" y="662" width="454" height="454" fill="none" stroke="#000" stroke-width="2"/>
<path d="M152.5 1116V1107.7M152.5 662V670.3" fill="none" stroke="#000" stroke-width="1"/>
<text x="135.97" y="1137.7" textLength="33.73" lengthAdjust="spacingAndGlyphs" style="font-family:'Liberation Sans',sans-serif;font-size:18.32px" fill="#000">−40</text>
<path d="M214.5 1116V1107.7M214.5 662V670.3" fill="none" stroke="#000" stroke-width="1"/>
<text x="197.15" y="1137.7" textLength="33.73" lengthAdjust="spacingAndGlyphs" style="font-family:'Liberation Sans',sans-serif;font-size:18.32px" fill="#000">−20</text>
<path d="M275.5 1116V1107.7M275.5 662V670.3" fill="none" stroke="#000" stroke-width="1"/>
<text x="270.46" y="1137.7" textLength="9.67" lengthAdjust="spacingAndGlyphs" style="font-family:'Liberation Sans',sans-serif;font-size:18.32px" fill="#000">0</text>
<path d="M336.5 1116V1107.7M336.5 662V670.3" fill="none" stroke="#000" stroke-width="1"/>
<text x="326.22" y="1137.7" textLength="20.32" lengthAdjust="spacingAndGlyphs" style="font-family:'Liberation Sans',sans-serif;font-size:18.32px" fill="#000">20</text>
<path d="M397.5 1116V1107.7M397.5 662V670.3" fill="none" stroke="#000" stroke-width="1"/>
<text x="387.7" y="1137.7" textLength="20.22" lengthAdjust="spacingAndGlyphs" style="font-family:'Liberation Sans',sans-serif;font-size:18.32px" fill="#000">40</text>
<path d="M458.5 1116V1107.7M458.5 662V670.3" fill="none" stroke="#000" stroke-width="1"/>
<text x="448.53" y="1137.7" textLength="20.4" lengthAdjust="spacingAndGlyphs" style="font-family:'Liberation Sans',sans-serif;font-size:18.32px" fill="#000">60</text>
<path d="M520.5 1116V1107.7M520.5 662V670.3" fill="none" stroke="#000" stroke-width="1"/>
<text x="509.84" y="1137.7" textLength="20.28" lengthAdjust="spacingAndGlyphs" style="font-family:'Liberation Sans',sans-serif;font-size:18.32px" fill="#000">80</text>
<path d="M117 1079.5H125.3M571 1079.5H562.7" fill="none" stroke="#000" stroke-width="1"/>
<text x="74.55" y="1084.1" textLength="33.73" lengthAdjust="spacingAndGlyphs" style="font-family:'Liberation Sans',sans-serif;font-size:18.32px" fill="#000">−40</text>
<path d="M117 1019.5H125.3M571 1019.5H562.7" fill="none" stroke="#000" stroke-width="1"/>
<text x="74.55" y="1023.3" textLength="33.73" lengthAdjust="spacingAndGlyphs" style="font-family:'Liberation Sans',sans-serif;font-size:18.32px" fill="#000">−20</text>
<path d="M117 958.5H125.3M571 958.5H562.7" fill="none" stroke="#000" stroke-width="1"/>
<text x="98.51" y="962.5" textLength="9.67" lengthAdjust="spacingAndGlyphs" style="font-family:'Liberation Sans',sans-serif;font-size:18.32px" fill="#000">0</text>
<path d="M117 897.5H125.3M571 897.5H562.7" fill="none" stroke="#000" stroke-width="1"/>
<text x="87.89" y="901.7" textLength="20.32" lengthAdjust="spacingAndGlyphs" style="font-family:'Liberation Sans',sans-serif;font-size:18.32px" fill="#000">20</text>
<path d="M117 836.5H125.3M571 836.5H562.7" fill="none" stroke="#000" stroke-width="1"/>
<text x="87.99" y="840.9" textLength="20.22" lengthAdjust="spacingAndGlyphs" style="font-family:'Liberation Sans',sans-serif;font-size:18.32px" fill="#000">40</text>
<path d="M117 775.5H125.3M571 775.5H562.7" fill="none" stroke="#000" stroke-width="1"/>
<text x="87.83" y="780.1" textLength="20.4" lengthAdjust="spacingAndGlyphs" style="font-family:'Liberation Sans',sans-serif;font-size:18.32px" fill="#000">60</text>
<path d="M117 715.5H125.3M571 715.5H562.7" fill="none" stroke="#000" stroke-width="1"/>
<text x="87.93" y="719.3" textLength="20.28" lengthAdjust="spacingAndGlyphs" style="font-family:'Liberation Sans',sans-serif;font-size:18.32px" fill="#000">80</text>
<rect x="125.2" y="669.3" width="144.7" height="47.7" fill="#fff" stroke="#000" stroke-width="2"/>
<text x="127.9" y="687.9" textLength="136.44" lengthAdjust="spacingAndGlyphs" style="font-family:'Liberation Sans',sans-serif;font-size:19.92px" fill="#000">slope = -0.035</text>
<text x="127.88" y="709.6" textLength="8.86" lengthAdjust="spacingAndGlyphs" style="font-family:'Liberation Serif',sans-serif;font-size:19px;font-style:italic" fill="#111">r</text>
<text x="143.74" y="709.6" textLength="80.43" lengthAdjust="spacingAndGlyphs" style="font-family:'Liberation Sans',sans-serif;font-size:19.92px" fill="#000">= -0.093</text>
<text x="283.87" y="651" textLength="120.13" lengthAdjust="spacingAndGlyphs" style="font-family:'Liberation Sans',sans-serif;font-size:24.15px" fill="#000">WalenTest</text>
<text x="0" y="0" transform="translate(55.2 950.18) rotate(-90)" textLength="11.86" lengthAdjust="spacingAndGlyphs" style="font-family:'Liberation Sans',sans-serif;font-size:17.3px" fill="#000">V</text>
<text x="0" y="0" transform="translate(57.3 938.05) rotate(-90)" textLength="55.95" lengthAdjust="spacingAndGlyphs" style="font-family:'Liberation Serif',sans-serif;font-size:11.5px;font-style:italic" fill="#222">remaining</text>
<text x="0" y="0" transform="translate(55.2 881.37) rotate(-90)" textLength="52.23" lengthAdjust="spacingAndGlyphs" style="font-family:'Liberation Sans',sans-serif;font-size:17.3px" fill="#000">(km/s)</text>
<text x="307.13" y="1167.4" textLength="11.15" lengthAdjust="spacingAndGlyphs" style="font-family:'Liberation Sans',sans-serif;font-size:17.3px" fill="#000">V</text>
<text x="320.4" y="1169.7" textLength="6.76" lengthAdjust="spacingAndGlyphs" style="font-family:'Liberation Serif',sans-serif;font-size:11.5px;font-style:italic" fill="#222">A</text>
<text x="328.01" y="1167.4" textLength="53.17" lengthAdjust="spacingAndGlyphs" style="font-family:'Liberation Sans',sans-serif;font-size:17.3px" fill="#000">(km/s)</text>
<polyline points="901.1,703.4 835.2,801.6 889.5,893.4 960.6,920.4 953.4,927.4 953.5,931 1006.5,996.4 904.4,1035.5 787.4,1072.4" fill="none" stroke="#0000ff" stroke-width="2.08" stroke-linecap="butt" stroke-linejoin="round"/>
<circle cx="901.1" cy="703.4" r="3.4" fill="#0000ff" stroke="none" stroke-width="1"/>
<circle cx="835.2" cy="801.6" r="3.4" fill="#0000ff" stroke="none" stroke-width="1"/>
<circle cx="889.5" cy="893.4" r="3.4" fill="#0000ff" stroke="none" stroke-width="1"/>
<circle cx="960.6" cy="920.4" r="3.4" fill="#0000ff" stroke="none" stroke-width="1"/>
<circle cx="953.4" cy="927.4" r="3.4" fill="#0000ff" stroke="none" stroke-width="1"/>
<circle cx="953.5" cy="931" r="3.4" fill="#0000ff" stroke="none" stroke-width="1"/>
<circle cx="1006.5" cy="996.4" r="3.4" fill="#0000ff" stroke="none" stroke-width="1"/>
<circle cx="904.4" cy="1035.5" r="3.4" fill="#0000ff" stroke="none" stroke-width="1"/>
<circle cx="787.4" cy="1072.4" r="3.4" fill="#0000ff" stroke="none" stroke-width="1"/>
<path d="M718.5 1116V662" fill="none" stroke="#000" stroke-width="1.2" stroke-dasharray="2.08 6.25"/>
<path d="M809.5 1116V662" fill="none" stroke="#000" stroke-width="1.2" stroke-dasharray="2.08 6.25"/>
<path d="M900.5 1116V662" fill="none" stroke="#000" stroke-width="1.2" stroke-dasharray="2.08 6.25"/>
<path d="M991.5 1116V662" fill="none" stroke="#000" stroke-width="1.2" stroke-dasharray="2.08 6.25"/>
<path d="M1082.5 1116V662" fill="none" stroke="#000" stroke-width="1.2" stroke-dasharray="2.08 6.25"/>
<path d="M673 1025.5H1127" fill="none" stroke="#000" stroke-width="1.2" stroke-dasharray="2.08 6.25"/>
<path d="M673 934.5H1127" fill="none" stroke="#000" stroke-width="1.2" stroke-dasharray="2.08 6.25"/>
<path d="M673 843.5H1127" fill="none" stroke="#000" stroke-width="1.2" stroke-dasharray="2.08 6.25"/>
<path d="M673 752.5H1127" fill="none" stroke="#000" stroke-width="1.2" stroke-dasharray="2.08 6.25"/>
<rect x="673" y="662" width="454" height="454" fill="none" stroke="#000" stroke-width="2"/>
<path d="M718.5 1116V1107.7M718.5 662V670.3" fill="none" stroke="#000" stroke-width="1"/>
<text x="701.23" y="1137.7" textLength="33.73" lengthAdjust="spacingAndGlyphs" style="font-family:'Liberation Sans',sans-serif;font-size:18.32px" fill="#000">−40</text>
<path d="M809.5 1116V1107.7M809.5 662V670.3" fill="none" stroke="#000" stroke-width="1"/>
<text x="792.33" y="1137.7" textLength="33.73" lengthAdjust="spacingAndGlyphs" style="font-family:'Liberation Sans',sans-serif;font-size:18.32px" fill="#000">−20</text>
<path d="M900.5 1116V1107.7M900.5 662V670.3" fill="none" stroke="#000" stroke-width="1"/>
<text x="895.56" y="1137.7" textLength="9.67" lengthAdjust="spacingAndGlyphs" style="font-family:'Liberation Sans',sans-serif;font-size:18.32px" fill="#000">0</text>
<path d="M991.5 1116V1107.7M991.5 662V670.3" fill="none" stroke="#000" stroke-width="1"/>
<text x="981.24" y="1137.7" textLength="20.32" lengthAdjust="spacingAndGlyphs" style="font-family:'Liberation Sans',sans-serif;font-size:18.32px" fill="#000">20</text>
<path d="M1082.5 1116V1107.7M1082.5 662V670.3" fill="none" stroke="#000" stroke-width="1"/>
<text x="1072.64" y="1137.7" textLength="20.22" lengthAdjust="spacingAndGlyphs" style="font-family:'Liberation Sans',sans-serif;font-size:18.32px" fill="#000">40</text>
<path d="M673 1116.5H681.3M1127 1116.5H1118.7" fill="none" stroke="#000" stroke-width="1"/>
<text x="630.55" y="1120.3" textLength="33.73" lengthAdjust="spacingAndGlyphs" style="font-family:'Liberation Sans',sans-serif;font-size:18.32px" fill="#000">−60</text>
<path d="M673 1025.5H681.3M1127 1025.5H1118.7" fill="none" stroke="#000" stroke-width="1"/>
<text x="630.55" y="1029.5" textLength="33.73" lengthAdjust="spacingAndGlyphs" style="font-family:'Liberation Sans',sans-serif;font-size:18.32px" fill="#000">−40</text>
<path d="M673 934.5H681.3M1127 934.5H1118.7" fill="none" stroke="#000" stroke-width="1"/>
<text x="630.55" y="938.7" textLength="33.73" lengthAdjust="spacingAndGlyphs" style="font-family:'Liberation Sans',sans-serif;font-size:18.32px" fill="#000">−20</text>
<path d="M673 843.5H681.3M1127 843.5H1118.7" fill="none" stroke="#000" stroke-width="1"/>
<text x="654.51" y="847.9" textLength="9.67" lengthAdjust="spacingAndGlyphs" style="font-family:'Liberation Sans',sans-serif;font-size:18.32px" fill="#000">0</text>
<path d="M673 752.5H681.3M1127 752.5H1118.7" fill="none" stroke="#000" stroke-width="1"/>
<text x="643.89" y="757.1" textLength="20.32" lengthAdjust="spacingAndGlyphs" style="font-family:'Liberation Sans',sans-serif;font-size:18.32px" fill="#000">20</text>
<path d="M673 662.5H681.3M1127 662.5H1118.7" fill="none" stroke="#000" stroke-width="1"/>
<text x="643.99" y="666.3" textLength="20.22" lengthAdjust="spacingAndGlyphs" style="font-family:'Liberation Sans',sans-serif;font-size:18.32px" fill="#000">40</text>
<text x="686.55" y="1091.8" textLength="9.71" lengthAdjust="spacingAndGlyphs" style="font-family:'Liberation Serif',sans-serif;font-size:19px;font-style:italic" fill="#111">λ</text>
<text x="694.65" y="1094.6" textLength="5.97" lengthAdjust="spacingAndGlyphs" style="font-family:'Liberation Serif',sans-serif;font-size:12.5px" fill="#111">1</text>
<path d="M703.9 1097.3L711 1079.3" fill="none" stroke="#111" stroke-width="1.1"/>
<text x="714.72" y="1091.8" textLength="9.31" lengthAdjust="spacingAndGlyphs" style="font-family:'Liberation Serif',sans-serif;font-size:19px;font-style:italic" fill="#111">λ</text>
<text x="723.34" y="1094.6" textLength="6.36" lengthAdjust="spacingAndGlyphs" style="font-family:'Liberation Serif',sans-serif;font-size:12.5px" fill="#111">2</text>
<text x="735.26" y="1091.2" textLength="14.62" lengthAdjust="spacingAndGlyphs" style="font-family:'Liberation Serif',sans-serif;font-size:19px" fill="#111">≈</text>
<text x="756.15" y="1091.8" textLength="40.74" lengthAdjust="spacingAndGlyphs" style="font-family:'Liberation Sans',sans-serif;font-size:19.92px" fill="#000">2.83</text>
<text x="677.76" y="649.8" textLength="282.85" lengthAdjust="spacingAndGlyphs" style="font-family:'Liberation Sans',sans-serif;font-size:24.2px" fill="#000">Hodogram (V2_V1 MVAV</text>
<text x="960.54" y="652.8" textLength="76.91" lengthAdjust="spacingAndGlyphs" style="font-family:'Liberation Serif',sans-serif;font-size:15.9px;font-style:italic" fill="#222">remaining</text>
<text x="1045.12" y="649.8" textLength="77.75" lengthAdjust="spacingAndGlyphs" style="font-family:'Liberation Sans',sans-serif;font-size:24.2px" fill="#000">frame)</text>
<text x="863.12" y="1166.8" textLength="74.13" lengthAdjust="spacingAndGlyphs" style="font-family:'Liberation Sans',sans-serif;font-size:18.32px" fill="#000">V2(km/s)</text>
<text x="0" y="0" transform="translate(613.8 927.83) rotate(-90)" textLength="74.13" lengthAdjust="spacingAndGlyphs" style="font-family:'Liberation Sans',sans-serif;font-size:18.32px" fill="#000">V1(km/s)</text>
<polyline points="1483.3,703.4 1444.2,801.6 1430.3,893.4 1443.2,920.5 1441.3,927.9 1435.8,930.2 1485.2,996.4 1453.3,1035.5 1471.4,1072.4" fill="none" stroke="#0000ff" stroke-width="2.08" stroke-linecap="butt" stroke-linejoin="round"/>
<circle cx="1483.3" cy="703.4" r="3.4" fill="#0000ff" stroke="none" stroke-width="1"/>
<circle cx="1444.2" cy="801.6" r="3.4" fill="#0000ff" stroke="none" stroke-width="1"/>
<circle cx="1430.3" cy="893.4" r="3.4" fill="#0000ff" stroke="none" stroke-width="1"/>
<circle cx="1443.2" cy="920.5" r="3.4" fill="#0000ff" stroke="none" stroke-width="1"/>
<circle cx="1441.3" cy="927.9" r="3.4" fill="#0000ff" stroke="none" stroke-width="1"/>
<circle cx="1435.8" cy="930.2" r="3.4" fill="#0000ff" stroke="none" stroke-width="1"/>
<circle cx="1485.2" cy="996.4" r="3.4" fill="#0000ff" stroke="none" stroke-width="1"/>
<circle cx="1453.3" cy="1035.5" r="3.4" fill="#0000ff" stroke="none" stroke-width="1"/>
<circle cx="1471.4" cy="1072.4" r="3.4" fill="#0000ff" stroke="none" stroke-width="1"/>
<path d="M1279.5 1116V662" fill="none" stroke="#000" stroke-width="1.2" stroke-dasharray="2.08 6.25"/>
<path d="M1370.5 1116V662" fill="none" stroke="#000" stroke-width="1.2" stroke-dasharray="2.08 6.25"/>
<path d="M1461.5 1116V662" fill="none" stroke="#000" stroke-width="1.2" stroke-dasharray="2.08 6.25"/>
<path d="M1551.5 1116V662" fill="none" stroke="#000" stroke-width="1.2" stroke-dasharray="2.08 6.25"/>
<path d="M1642.5 1116V662" fill="none" stroke="#000" stroke-width="1.2" stroke-dasharray="2.08 6.25"/>
<path d="M1229 1025.5H1683" fill="none" stroke="#000" stroke-width="1.2" stroke-dasharray="2.08 6.25"/>
<path d="M1229 934.5H1683" fill="none" stroke="#000" stroke-width="1.2" stroke-dasharray="2.08 6.25"/>
<path d="M1229 843.5H1683" fill="none" stroke="#000" stroke-width="1.2" stroke-dasharray="2.08 6.25"/>
<path d="M1229 752.5H1683" fill="none" stroke="#000" stroke-width="1.2" stroke-dasharray="2.08 6.25"/>
<rect x="1229" y="662" width="454" height="454" fill="none" stroke="#000" stroke-width="2"/>
<path d="M1279.5 1116V1107.7M1279.5 662V670.3" fill="none" stroke="#000" stroke-width="1"/>
<text x="1262.37" y="1137.7" textLength="33.73" lengthAdjust="spacingAndGlyphs" style="font-family:'Liberation Sans',sans-serif;font-size:18.32px" fill="#000">−40</text>
<path d="M1370.5 1116V1107.7M1370.5 662V670.3" fill="none" stroke="#000" stroke-width="1"/>
<text x="1353.25" y="1137.7" textLength="33.73" lengthAdjust="spacingAndGlyphs" style="font-family:'Liberation Sans',sans-serif;font-size:18.32px" fill="#000">−20</text>
<path d="M1461.5 1116V1107.7M1461.5 662V670.3" fill="none" stroke="#000" stroke-width="1"/>
<text x="1456.26" y="1137.7" textLength="9.67" lengthAdjust="spacingAndGlyphs" style="font-family:'Liberation Sans',sans-serif;font-size:18.32px" fill="#000">0</text>
<path d="M1551.5 1116V1107.7M1551.5 662V670.3" fill="none" stroke="#000" stroke-width="1"/>
<text x="1541.72" y="1137.7" textLength="20.32" lengthAdjust="spacingAndGlyphs" style="font-family:'Liberation Sans',sans-serif;font-size:18.32px" fill="#000">20</text>
<path d="M1642.5 1116V1107.7M1642.5 662V670.3" fill="none" stroke="#000" stroke-width="1"/>
<text x="1632.9" y="1137.7" textLength="20.22" lengthAdjust="spacingAndGlyphs" style="font-family:'Liberation Sans',sans-serif;font-size:18.32px" fill="#000">40</text>
<path d="M1229 1116.5H1237.3M1683 1116.5H1674.7" fill="none" stroke="#000" stroke-width="1"/>
<text x="1186.55" y="1120.3" textLength="33.73" lengthAdjust="spacingAndGlyphs" style="font-family:'Liberation Sans',sans-serif;font-size:18.32px" fill="#000">−60</text>
<path d="M1229 1025.5H1237.3M1683 1025.5H1674.7" fill="none" stroke="#000" stroke-width="1"/>
<text x="1186.55" y="1029.5" textLength="33.73" lengthAdjust="spacingAndGlyphs" style="font-family:'Liberation Sans',sans-serif;font-size:18.32px" fill="#000">−40</text>
<path d="M1229 934.5H1237.3M1683 934.5H1674.7" fill="none" stroke="#000" stroke-width="1"/>
<text x="1186.55" y="938.7" textLength="33.73" lengthAdjust="spacingAndGlyphs" style="font-family:'Liberation Sans',sans-serif;font-size:18.32px" fill="#000">−20</text>
<path d="M1229 843.5H1237.3M1683 843.5H1674.7" fill="none" stroke="#000" stroke-width="1"/>
<text x="1210.51" y="847.9" textLength="9.67" lengthAdjust="spacingAndGlyphs" style="font-family:'Liberation Sans',sans-serif;font-size:18.32px" fill="#000">0</text>
<path d="M1229 752.5H1237.3M1683 752.5H1674.7" fill="none" stroke="#000" stroke-width="1"/>
<text x="1199.89" y="757.1" textLength="20.32" lengthAdjust="spacingAndGlyphs" style="font-family:'Liberation Sans',sans-serif;font-size:18.32px" fill="#000">20</text>
<path d="M1229 662.5H1237.3M1683 662.5H1674.7" fill="none" stroke="#000" stroke-width="1"/>
<text x="1199.99" y="666.3" textLength="20.22" lengthAdjust="spacingAndGlyphs" style="font-family:'Liberation Sans',sans-serif;font-size:18.32px" fill="#000">40</text>
<text x="1262.85" y="1091.8" textLength="9.71" lengthAdjust="spacingAndGlyphs" style="font-family:'Liberation Serif',sans-serif;font-size:19px;font-style:italic" fill="#111">λ</text>
<text x="1270.95" y="1094.6" textLength="5.97" lengthAdjust="spacingAndGlyphs" style="font-family:'Liberation Serif',sans-serif;font-size:12.5px" fill="#111">1</text>
<path d="M1280.2 1097.3L1287.3 1079.3" fill="none" stroke="#111" stroke-width="1.1"/>
<text x="1291.02" y="1091.8" textLength="9.31" lengthAdjust="spacingAndGlyphs" style="font-family:'Liberation Serif',sans-serif;font-size:19px;font-style:italic" fill="#111">λ</text>
<text x="1299.61" y="1094.6" textLength="6.17" lengthAdjust="spacingAndGlyphs" style="font-family:'Liberation Serif',sans-serif;font-size:12.5px" fill="#111">3</text>
<text x="1311.56" y="1091.2" textLength="14.62" lengthAdjust="spacingAndGlyphs" style="font-family:'Liberation Serif',sans-serif;font-size:19px" fill="#111">≈</text>
<text x="1332.71" y="1091.8" textLength="52.08" lengthAdjust="spacingAndGlyphs" style="font-family:'Liberation Sans',sans-serif;font-size:19.92px" fill="#000">30.82</text>
<text x="1233.76" y="649.8" textLength="282.85" lengthAdjust="spacingAndGlyphs" style="font-family:'Liberation Sans',sans-serif;font-size:24.2px" fill="#000">Hodogram (V3_V1 MVAV</text>
<text x="1516.54" y="652.8" textLength="76.91" lengthAdjust="spacingAndGlyphs" style="font-family:'Liberation Serif',sans-serif;font-size:15.9px;font-style:italic" fill="#222">remaining</text>
<text x="1601.12" y="649.8" textLength="77.75" lengthAdjust="spacingAndGlyphs" style="font-family:'Liberation Sans',sans-serif;font-size:24.2px" fill="#000">frame)</text>
<text x="1419.12" y="1166.8" textLength="74.13" lengthAdjust="spacingAndGlyphs" style="font-family:'Liberation Sans',sans-serif;font-size:18.32px" fill="#000">V3(km/s)</text>
<text x="0" y="0" transform="translate(1169.8 927.83) rotate(-90)" textLength="74.13" lengthAdjust="spacingAndGlyphs" style="font-family:'Liberation Sans',sans-serif;font-size:18.32px" fill="#000">V1(km/s)</text>
<polyline points="117.5,1361.5 1683,1361.5" fill="none" stroke="#000" stroke-width="1" stroke-linecap="butt" stroke-linejoin="round" stroke-dasharray="12.5 12.5"/>
<polyline points="117.6,1508.9 313.33,1517.1 509.06,1514.4 704.79,1504.2 900.52,1505.7 1096.25,1508.6 1291.98,1493.4 1487.71,1496.9 1683.44,1492" fill="none" stroke="#ff0000" stroke-width="2.08" stroke-linecap="butt" stroke-linejoin="round"/>
<polyline points="117.6,1313.4 313.33,1355.4 509.06,1343.1 704.79,1364.2 900.52,1370 1096.25,1349.3 1291.98,1356.3 1487.71,1390.4 1683.44,1447.6" fill="none" stroke="#008000" stroke-width="2.08" stroke-linecap="butt" stroke-linejoin="round"/>
<polyline points="117.6,1346.9 313.33,1351.9 509.06,1384 704.79,1426.3 900.52,1424.6 1096.25,1415.8 1291.98,1450.5 1487.71,1449.1 1683.44,1419" fill="none" stroke="#0000ff" stroke-width="2.08" stroke-linecap="butt" stroke-linejoin="round"/>
<rect x="117" y="1305" width="1566" height="222" fill="none" stroke="#000" stroke-width="2"/>
<path d="M117.5 1527V1518.7M117.5 1305V1313.3" fill="none" stroke="#000" stroke-width="1"/>
<text x="67.94" y="1549.5" textLength="99.53" lengthAdjust="spacingAndGlyphs" style="font-family:'Liberation Sans',sans-serif;font-size:18.32px" fill="#000">07/04 22:37</text>
<path d="M313.5 1527V1518.7M313.5 1305V1313.3" fill="none" stroke="#000" stroke-width="1"/>
<text x="263.53" y="1549.5" textLength="99.69" lengthAdjust="spacingAndGlyphs" style="font-family:'Liberation Sans',sans-serif;font-size:18.32px" fill="#000">07/04 22:38</text>
<path d="M509.5 1527V1518.7M509.5 1305V1313.3" fill="none" stroke="#000" stroke-width="1"/>
<text x="459.27" y="1549.5" textLength="99.73" lengthAdjust="spacingAndGlyphs" style="font-family:'Liberation Sans',sans-serif;font-size:18.32px" fill="#000">07/04 22:39</text>
<path d="M704.5 1527V1518.7M704.5 1305V1313.3" fill="none" stroke="#000" stroke-width="1"/>
<text x="654.97" y="1549.5" textLength="99.64" lengthAdjust="spacingAndGlyphs" style="font-family:'Liberation Sans',sans-serif;font-size:18.32px" fill="#000">07/04 22:40</text>
<path d="M900.5 1527V1518.7M900.5 1305V1313.3" fill="none" stroke="#000" stroke-width="1"/>
<text x="850.92" y="1549.5" textLength="99.39" lengthAdjust="spacingAndGlyphs" style="font-family:'Liberation Sans',sans-serif;font-size:18.32px" fill="#000">07/04 22:41</text>
<path d="M1096.5 1527V1518.7M1096.5 1305V1313.3" fill="none" stroke="#000" stroke-width="1"/>
<text x="1046.71" y="1549.5" textLength="99.29" lengthAdjust="spacingAndGlyphs" style="font-family:'Liberation Sans',sans-serif;font-size:18.32px" fill="#000">07/04 22:42</text>
<path d="M1291.5 1527V1518.7M1291.5 1305V1313.3" fill="none" stroke="#000" stroke-width="1"/>
<text x="1242.28" y="1549.5" textLength="99.5" lengthAdjust="spacingAndGlyphs" style="font-family:'Liberation Sans',sans-serif;font-size:18.32px" fill="#000">07/04 22:43</text>
<path d="M1487.5 1527V1518.7M1487.5 1305V1313.3" fill="none" stroke="#000" stroke-width="1"/>
<text x="1437.81" y="1549.5" textLength="99.62" lengthAdjust="spacingAndGlyphs" style="font-family:'Liberation Sans',sans-serif;font-size:18.32px" fill="#000">07/04 22:44</text>
<path d="M1683.5 1527V1518.7M1683.5 1305V1313.3" fill="none" stroke="#000" stroke-width="1"/>
<text x="1633.8" y="1549.5" textLength="99.34" lengthAdjust="spacingAndGlyphs" style="font-family:'Liberation Sans',sans-serif;font-size:18.32px" fill="#000">07/04 22:45</text>
<path d="M117 1527.5H125.3M1683 1527.5H1674.7" fill="none" stroke="#000" stroke-width="1"/>
<text x="85.01" y="1532.4" textLength="23.45" lengthAdjust="spacingAndGlyphs" style="font-family:'Liberation Sans',sans-serif;font-size:18.32px" fill="#000">−6</text>
<path d="M117 1499.5H125.3M1683 1499.5H1674.7" fill="none" stroke="#000" stroke-width="1"/>
<text x="85.03" y="1504.65" textLength="22.97" lengthAdjust="spacingAndGlyphs" style="font-family:'Liberation Sans',sans-serif;font-size:18.32px" fill="#000">−5</text>
<path d="M117 1471.5H125.3M1683 1471.5H1674.7" fill="none" stroke="#000" stroke-width="1"/>
<text x="85.02" y="1476.9" textLength="23.25" lengthAdjust="spacingAndGlyphs" style="font-family:'Liberation Sans',sans-serif;font-size:18.32px" fill="#000">−4</text>
<path d="M117 1444.5H125.3M1683 1444.5H1674.7" fill="none" stroke="#000" stroke-width="1"/>
<text x="85.02" y="1449.15" textLength="23.15" lengthAdjust="spacingAndGlyphs" style="font-family:'Liberation Sans',sans-serif;font-size:18.32px" fill="#000">−3</text>
<path d="M117 1416.5H125.3M1683 1416.5H1674.7" fill="none" stroke="#000" stroke-width="1"/>
<text x="85.03" y="1421.4" textLength="22.93" lengthAdjust="spacingAndGlyphs" style="font-family:'Liberation Sans',sans-serif;font-size:18.32px" fill="#000">−2</text>
<path d="M117 1388.5H125.3M1683 1388.5H1674.7" fill="none" stroke="#000" stroke-width="1"/>
<text x="85.03" y="1393.65" textLength="23.03" lengthAdjust="spacingAndGlyphs" style="font-family:'Liberation Sans',sans-serif;font-size:18.32px" fill="#000">−1</text>
<path d="M117 1360.5H125.3M1683 1360.5H1674.7" fill="none" stroke="#000" stroke-width="1"/>
<text x="98.51" y="1365.9" textLength="9.67" lengthAdjust="spacingAndGlyphs" style="font-family:'Liberation Sans',sans-serif;font-size:18.32px" fill="#000">0</text>
<path d="M117 1333.5H125.3M1683 1333.5H1674.7" fill="none" stroke="#000" stroke-width="1"/>
<text x="98.65" y="1338.15" textLength="9.24" lengthAdjust="spacingAndGlyphs" style="font-family:'Liberation Sans',sans-serif;font-size:18.32px" fill="#000">1</text>
<path d="M117 1305.5H125.3M1683 1305.5H1674.7" fill="none" stroke="#000" stroke-width="1"/>
<text x="98.47" y="1310.4" textLength="9.32" lengthAdjust="spacingAndGlyphs" style="font-family:'Liberation Sans',sans-serif;font-size:18.32px" fill="#000">2</text>
<text x="739.93" y="1294.5" textLength="319.63" lengthAdjust="spacingAndGlyphs" style="font-family:'Liberation Sans',sans-serif;font-size:24.15px" fill="#000">Magnetic Field (GSE Frame)</text>
<rect x="1605" y="1312.2" width="71" height="71.5" fill="#fff" stroke="#000" stroke-width="2"/>
<polyline points="1613.9,1325 1636,1325" fill="none" stroke="#ff0000" stroke-width="2.08" stroke-linecap="butt" stroke-linejoin="round"/>
<text x="1651.53" y="1329.8" textLength="18.07" lengthAdjust="spacingAndGlyphs" style="font-family:'Liberation Sans',sans-serif;font-size:16.67px" fill="#000">Bx</text>
<polyline points="1613.9,1346.9 1636,1346.9" fill="none" stroke="#008000" stroke-width="2.08" stroke-linecap="butt" stroke-linejoin="round"/>
<text x="1651.54" y="1351.7" textLength="17.97" lengthAdjust="spacingAndGlyphs" style="font-family:'Liberation Sans',sans-serif;font-size:16.67px" fill="#000">By</text>
<polyline points="1613.9,1370 1636,1370" fill="none" stroke="#0000ff" stroke-width="2.08" stroke-linecap="butt" stroke-linejoin="round"/>
<text x="1651.57" y="1374.8" textLength="17.49" lengthAdjust="spacingAndGlyphs" style="font-family:'Liberation Sans',sans-serif;font-size:16.67px" fill="#000">Bz</text>
<text x="0" y="0" transform="translate(70.3 1441.4) rotate(-90)" textLength="44.24" lengthAdjust="spacingAndGlyphs" style="font-family:'Liberation Sans',sans-serif;font-size:18.32px" fill="#000">B(nT)</text>
<polyline points="117.5,1811.5 1683,1811.5" fill="none" stroke="#000" stroke-width="1" stroke-linecap="butt" stroke-linejoin="round" stroke-dasharray="12.5 12.5"/>
<polyline points="117.6,1851.2 313.33,1843 509.06,1816.3 704.79,1775.9 900.52,1776.3 1096.25,1787 1291.98,1753.7 1487.71,1751.1 1683.44,1770.4" fill="none" stroke="#ff0000" stroke-width="2.08" stroke-linecap="butt" stroke-linejoin="round"/>
<polyline points="117.6,1848.3 313.33,1811.8 509.06,1825.8 704.79,1812.4 900.52,1806.8 1096.25,1824.6 1291.98,1822.4 1487.71,1791.4 1683.44,1738" fill="none" stroke="#008000" stroke-width="2.08" stroke-linecap="butt" stroke-linejoin="round"/>
<polyline points="117.6,1683.7 313.33,1675.2 509.06,1672.9 704.79,1674.6 900.52,1674 1096.25,1672.6 1291.98,1681.1 1487.71,1677.6 1683.44,1687.5" fill="none" stroke="#0000ff" stroke-width="2.08" stroke-linecap="butt" stroke-linejoin="round"/>
<polyline points="117.6,1672.6 313.33,1672.6 509.06,1671.7 704.79,1670.6 900.52,1669.2 1096.25,1670 1291.98,1668 1487.71,1663.6 1683.44,1660.6" fill="none" stroke="#000" stroke-width="2.08" stroke-linecap="butt" stroke-linejoin="round"/>
<rect x="117" y="1639" width="1566" height="222" fill="none" stroke="#000" stroke-width="2"/>
<path d="M117.5 1861V1852.7M117.5 1639V1647.3" fill="none" stroke="#000" stroke-width="1"/>
<text x="67.94" y="1883.5" textLength="99.53" lengthAdjust="spacingAndGlyphs" style="font-family:'Liberation Sans',sans-serif;font-size:18.32px" fill="#000">07/04 22:37</text>
<path d="M313.5 1861V1852.7M313.5 1639V1647.3" fill="none" stroke="#000" stroke-width="1"/>
<text x="263.53" y="1883.5" textLength="99.69" lengthAdjust="spacingAndGlyphs" style="font-family:'Liberation Sans',sans-serif;font-size:18.32px" fill="#000">07/04 22:38</text>
<path d="M509.5 1861V1852.7M509.5 1639V1647.3" fill="none" stroke="#000" stroke-width="1"/>
<text x="459.27" y="1883.5" textLength="99.73" lengthAdjust="spacingAndGlyphs" style="font-family:'Liberation Sans',sans-serif;font-size:18.32px" fill="#000">07/04 22:39</text>
<path d="M704.5 1861V1852.7M704.5 1639V1647.3" fill="none" stroke="#000" stroke-width="1"/>
<text x="654.97" y="1883.5" textLength="99.64" lengthAdjust="spacingAndGlyphs" style="font-family:'Liberation Sans',sans-serif;font-size:18.32px" fill="#000">07/04 22:40</text>
<path d="M900.5 1861V1852.7M900.5 1639V1647.3" fill="none" stroke="#000" stroke-width="1"/>
<text x="850.92" y="1883.5" textLength="99.39" lengthAdjust="spacingAndGlyphs" style="font-family:'Liberation Sans',sans-serif;font-size:18.32px" fill="#000">07/04 22:41</text>
<path d="M1096.5 1861V1852.7M1096.5 1639V1647.3" fill="none" stroke="#000" stroke-width="1"/>
<text x="1046.71" y="1883.5" textLength="99.29" lengthAdjust="spacingAndGlyphs" style="font-family:'Liberation Sans',sans-serif;font-size:18.32px" fill="#000">07/04 22:42</text>
<path d="M1291.5 1861V1852.7M1291.5 1639V1647.3" fill="none" stroke="#000" stroke-width="1"/>
<text x="1242.28" y="1883.5" textLength="99.5" lengthAdjust="spacingAndGlyphs" style="font-family:'Liberation Sans',sans-serif;font-size:18.32px" fill="#000">07/04 22:43</text>
<path d="M1487.5 1861V1852.7M1487.5 1639V1647.3" fill="none" stroke="#000" stroke-width="1"/>
<text x="1437.81" y="1883.5" textLength="99.62" lengthAdjust="spacingAndGlyphs" style="font-family:'Liberation Sans',sans-serif;font-size:18.32px" fill="#000">07/04 22:44</text>
<path d="M1683.5 1861V1852.7M1683.5 1639V1647.3" fill="none" stroke="#000" stroke-width="1"/>
<text x="1633.8" y="1883.5" textLength="99.34" lengthAdjust="spacingAndGlyphs" style="font-family:'Liberation Sans',sans-serif;font-size:18.32px" fill="#000">07/04 22:45</text>
<path d="M117 1861.5H125.3M1683 1861.5H1674.7" fill="none" stroke="#000" stroke-width="1"/>
<text x="85.03" y="1866.4" textLength="22.93" lengthAdjust="spacingAndGlyphs" style="font-family:'Liberation Sans',sans-serif;font-size:18.32px" fill="#000">−2</text>
<path d="M117 1836.5H125.3M1683 1836.5H1674.7" fill="none" stroke="#000" stroke-width="1"/>
<text x="85.03" y="1841.73" textLength="23.03" lengthAdjust="spacingAndGlyphs" style="font-family:'Liberation Sans',sans-serif;font-size:18.32px" fill="#000">−1</text>
<path d="M117 1812.5H125.3M1683 1812.5H1674.7" fill="none" stroke="#000" stroke-width="1"/>
<text x="98.51" y="1817.07" textLength="9.67" lengthAdjust="spacingAndGlyphs" style="font-family:'Liberation Sans',sans-serif;font-size:18.32px" fill="#000">0</text>
<path d="M117 1787.5H125.3M1683 1787.5H1674.7" fill="none" stroke="#000" stroke-width="1"/>
<text x="98.65" y="1792.4" textLength="9.24" lengthAdjust="spacingAndGlyphs" style="font-family:'Liberation Sans',sans-serif;font-size:18.32px" fill="#000">1</text>
<path d="M117 1762.5H125.3M1683 1762.5H1674.7" fill="none" stroke="#000" stroke-width="1"/>
<text x="98.47" y="1767.73" textLength="9.32" lengthAdjust="spacingAndGlyphs" style="font-family:'Liberation Sans',sans-serif;font-size:18.32px" fill="#000">2</text>
<path d="M117 1738.5H125.3M1683 1738.5H1674.7" fill="none" stroke="#000" stroke-width="1"/>
<text x="98.72" y="1743.07" textLength="9.29" lengthAdjust="spacingAndGlyphs" style="font-family:'Liberation Sans',sans-serif;font-size:18.32px" fill="#000">3</text>
<path d="M117 1713.5H125.3M1683 1713.5H1674.7" fill="none" stroke="#000" stroke-width="1"/>
<text x="98.51" y="1718.4" textLength="9.67" lengthAdjust="spacingAndGlyphs" style="font-family:'Liberation Sans',sans-serif;font-size:18.32px" fill="#000">4</text>
<path d="M117 1688.5H125.3M1683 1688.5H1674.7" fill="none" stroke="#000" stroke-width="1"/>
<text x="98.72" y="1693.73" textLength="9.13" lengthAdjust="spacingAndGlyphs" style="font-family:'Liberation Sans',sans-serif;font-size:18.32px" fill="#000">5</text>
<path d="M117 1664.5H125.3M1683 1664.5H1674.7" fill="none" stroke="#000" stroke-width="1"/>
<text x="98.34" y="1669.07" textLength="10.01" lengthAdjust="spacingAndGlyphs" style="font-family:'Liberation Sans',sans-serif;font-size:18.32px" fill="#000">6</text>
<path d="M117 1639.5H125.3M1683 1639.5H1674.7" fill="none" stroke="#000" stroke-width="1"/>
<text x="98.58" y="1644.4" textLength="9.46" lengthAdjust="spacingAndGlyphs" style="font-family:'Liberation Sans',sans-serif;font-size:18.32px" fill="#000">7</text>
<text x="706.42" y="1627.8" textLength="386.65" lengthAdjust="spacingAndGlyphs" style="font-family:'Liberation Sans',sans-serif;font-size:24.15px" fill="#000">Magnetic Field (Flux Rope Frame)</text>
<rect x="1601" y="1646" width="75" height="94" fill="#fff" stroke="#000" stroke-width="2"/>
<polyline points="1609.7,1658.6 1631.6,1658.6" fill="none" stroke="#ff0000" stroke-width="2.08" stroke-linecap="butt" stroke-linejoin="round"/>
<text x="1646.98" y="1663.4" textLength="21.83" lengthAdjust="spacingAndGlyphs" style="font-family:'Liberation Sans',sans-serif;font-size:16.67px" fill="#000">Bx'</text>
<polyline points="1609.7,1680.5 1631.6,1680.5" fill="none" stroke="#008000" stroke-width="2.08" stroke-linecap="butt" stroke-linejoin="round"/>
<text x="1646.98" y="1685.3" textLength="21.83" lengthAdjust="spacingAndGlyphs" style="font-family:'Liberation Sans',sans-serif;font-size:16.67px" fill="#000">By'</text>
<polyline points="1609.7,1702.4 1631.6,1702.4" fill="none" stroke="#0000ff" stroke-width="2.08" stroke-linecap="butt" stroke-linejoin="round"/>
<text x="1647.05" y="1707.2" textLength="20.76" lengthAdjust="spacingAndGlyphs" style="font-family:'Liberation Sans',sans-serif;font-size:16.67px" fill="#000">Bz'</text>
<polyline points="1609.7,1724.3 1631.6,1724.3" fill="none" stroke="#000" stroke-width="2.08" stroke-linecap="butt" stroke-linejoin="round"/>
<text x="1646.88" y="1729.1" textLength="18.88" lengthAdjust="spacingAndGlyphs" style="font-family:'Liberation Sans',sans-serif;font-size:16.67px" fill="#000">|B|</text>
<text x="0" y="0" transform="translate(70.3 1774.3) rotate(-90)" textLength="44.24" lengthAdjust="spacingAndGlyphs" style="font-family:'Liberation Sans',sans-serif;font-size:18.32px" fill="#000">B(nT)</text>
<polyline points="117.6,2171 313.33,2169.5 509.06,2170.1 704.79,2171.3 900.52,2171.3 1096.25,2170.7 1291.98,2174.5 1487.71,2172.7 1683.44,2173.9" fill="none" stroke="#ff0000" stroke-width="2.08" stroke-linecap="butt" stroke-linejoin="round"/>
<polyline points="117.6,1997.4 313.33,1990.9 509.06,1989 704.79,1990.3 900.52,1989.6 1096.25,1989.5 1291.98,1989 1487.71,1983.9 1683.44,1978.4" fill="none" stroke="#008000" stroke-width="2.08" stroke-linecap="butt" stroke-linejoin="round"/>
<polyline points="117.6,1997.1 313.33,1995.6 509.06,1989.8 704.79,1986.6 900.52,1986.7 1096.25,1986.6 1291.98,1982.2 1487.71,1984.8 1683.44,1989.2" fill="none" stroke="#0000ff" stroke-width="2.08" stroke-linecap="butt" stroke-linejoin="round"/>
<rect x="117" y="1972" width="1566" height="222" fill="none" stroke="#000" stroke-width="2"/>
<path d="M117.5 2194V2185.7M117.5 1972V1980.3" fill="none" stroke="#000" stroke-width="1"/>
<text x="67.94" y="2216.5" textLength="99.53" lengthAdjust="spacingAndGlyphs" style="font-family:'Liberation Sans',sans-serif;font-size:18.32px" fill="#000">07/04 22:37</text>
<path d="M313.5 2194V2185.7M313.5 1972V1980.3" fill="none" stroke="#000" stroke-width="1"/>
<text x="263.53" y="2216.5" textLength="99.69" lengthAdjust="spacingAndGlyphs" style="font-family:'Liberation Sans',sans-serif;font-size:18.32px" fill="#000">07/04 22:38</text>
<path d="M509.5 2194V2185.7M509.5 1972V1980.3" fill="none" stroke="#000" stroke-width="1"/>
<text x="459.27" y="2216.5" textLength="99.73" lengthAdjust="spacingAndGlyphs" style="font-family:'Liberation Sans',sans-serif;font-size:18.32px" fill="#000">07/04 22:39</text>
<path d="M704.5 2194V2185.7M704.5 1972V1980.3" fill="none" stroke="#000" stroke-width="1"/>
<text x="654.97" y="2216.5" textLength="99.64" lengthAdjust="spacingAndGlyphs" style="font-family:'Liberation Sans',sans-serif;font-size:18.32px" fill="#000">07/04 22:40</text>
<path d="M900.5 2194V2185.7M900.5 1972V1980.3" fill="none" stroke="#000" stroke-width="1"/>
<text x="850.92" y="2216.5" textLength="99.39" lengthAdjust="spacingAndGlyphs" style="font-family:'Liberation Sans',sans-serif;font-size:18.32px" fill="#000">07/04 22:41</text>
<path d="M1096.5 2194V2185.7M1096.5 1972V1980.3" fill="none" stroke="#000" stroke-width="1"/>
<text x="1046.71" y="2216.5" textLength="99.29" lengthAdjust="spacingAndGlyphs" style="font-family:'Liberation Sans',sans-serif;font-size:18.32px" fill="#000">07/04 22:42</text>
<path d="M1291.5 2194V2185.7M1291.5 1972V1980.3" fill="none" stroke="#000" stroke-width="1"/>
<text x="1242.28" y="2216.5" textLength="99.5" lengthAdjust="spacingAndGlyphs" style="font-family:'Liberation Sans',sans-serif;font-size:18.32px" fill="#000">07/04 22:43</text>
<path d="M1487.5 2194V2185.7M1487.5 1972V1980.3" fill="none" stroke="#000" stroke-width="1"/>
<text x="1437.81" y="2216.5" textLength="99.62" lengthAdjust="spacingAndGlyphs" style="font-family:'Liberation Sans',sans-serif;font-size:18.32px" fill="#000">07/04 22:44</text>
<path d="M1683.5 2194V2185.7M1683.5 1972V1980.3" fill="none" stroke="#000" stroke-width="1"/>
<text x="1633.8" y="2216.5" textLength="99.34" lengthAdjust="spacingAndGlyphs" style="font-family:'Liberation Sans',sans-serif;font-size:18.32px" fill="#000">07/04 22:45</text>
<path d="M117 2194.5H125.3M1683 2194.5H1674.7" fill="none" stroke="#000" stroke-width="1"/>
<text x="64.06" y="2199.4" textLength="44.21" lengthAdjust="spacingAndGlyphs" style="font-family:'Liberation Sans',sans-serif;font-size:18.32px" fill="#000">−800</text>
<path d="M117 2169.5H125.3M1683 2169.5H1674.7" fill="none" stroke="#000" stroke-width="1"/>
<text x="64.06" y="2174.73" textLength="44.21" lengthAdjust="spacingAndGlyphs" style="font-family:'Liberation Sans',sans-serif;font-size:18.32px" fill="#000">−700</text>
<path d="M117 2145.5H125.3M1683 2145.5H1674.7" fill="none" stroke="#000" stroke-width="1"/>
<text x="64.06" y="2150.07" textLength="44.21" lengthAdjust="spacingAndGlyphs" style="font-family:'Liberation Sans',sans-serif;font-size:18.32px" fill="#000">−600</text>
<path d="M117 2120.5H125.3M1683 2120.5H1674.7" fill="none" stroke="#000" stroke-width="1"/>
<text x="64.06" y="2125.4" textLength="44.21" lengthAdjust="spacingAndGlyphs" style="font-family:'Liberation Sans',sans-serif;font-size:18.32px" fill="#000">−500</text>
<path d="M117 2095.5H125.3M1683 2095.5H1674.7" fill="none" stroke="#000" stroke-width="1"/>
<text x="64.06" y="2100.73" textLength="44.21" lengthAdjust="spacingAndGlyphs" style="font-family:'Liberation Sans',sans-serif;font-size:18.32px" fill="#000">−400</text>
<path d="M117 2071.5H125.3M1683 2071.5H1674.7" fill="none" stroke="#000" stroke-width="1"/>
<text x="64.06" y="2076.07" textLength="44.21" lengthAdjust="spacingAndGlyphs" style="font-family:'Liberation Sans',sans-serif;font-size:18.32px" fill="#000">−300</text>
<path d="M117 2046.5H125.3M1683 2046.5H1674.7" fill="none" stroke="#000" stroke-width="1"/>
<text x="64.06" y="2051.4" textLength="44.21" lengthAdjust="spacingAndGlyphs" style="font-family:'Liberation Sans',sans-serif;font-size:18.32px" fill="#000">−200</text>
<path d="M117 2021.5H125.3M1683 2021.5H1674.7" fill="none" stroke="#000" stroke-width="1"/>
<text x="64.06" y="2026.73" textLength="44.21" lengthAdjust="spacingAndGlyphs" style="font-family:'Liberation Sans',sans-serif;font-size:18.32px" fill="#000">−100</text>
<path d="M117 1997.5H125.3M1683 1997.5H1674.7" fill="none" stroke="#000" stroke-width="1"/>
<text x="98.51" y="2002.07" textLength="9.67" lengthAdjust="spacingAndGlyphs" style="font-family:'Liberation Sans',sans-serif;font-size:18.32px" fill="#000">0</text>
<path d="M117 1972.5H125.3M1683 1972.5H1674.7" fill="none" stroke="#000" stroke-width="1"/>
<text x="77.52" y="1977.4" textLength="30.71" lengthAdjust="spacingAndGlyphs" style="font-family:'Liberation Sans',sans-serif;font-size:18.32px" fill="#000">100</text>
<text x="712.4" y="1960.8" textLength="375.63" lengthAdjust="spacingAndGlyphs" style="font-family:'Liberation Sans',sans-serif;font-size:24.15px" fill="#000">Solar Wind Velocity (GSE Frame)</text>
<rect x="1604.8" y="1979" width="71.2" height="72" fill="#fff" stroke="#000" stroke-width="2"/>
<polyline points="1614,1991.2 1636,1991.2" fill="none" stroke="#ff0000" stroke-width="2.08" stroke-linecap="butt" stroke-linejoin="round"/>
<text x="1651.43" y="1996" textLength="18.15" lengthAdjust="spacingAndGlyphs" style="font-family:'Liberation Sans',sans-serif;font-size:16.67px" fill="#000">Vx</text>
<polyline points="1614,2013.7 1636,2013.7" fill="none" stroke="#008000" stroke-width="2.08" stroke-linecap="butt" stroke-linejoin="round"/>
<text x="1651.43" y="2018.5" textLength="18.05" lengthAdjust="spacingAndGlyphs" style="font-family:'Liberation Sans',sans-serif;font-size:16.67px" fill="#000">Vy</text>
<polyline points="1614,2036.7 1636,2036.7" fill="none" stroke="#0000ff" stroke-width="2.08" stroke-linecap="butt" stroke-linejoin="round"/>
<text x="1651.43" y="2041.5" textLength="17.61" lengthAdjust="spacingAndGlyphs" style="font-family:'Liberation Sans',sans-serif;font-size:16.67px" fill="#000">Vz</text>
<text x="0" y="0" transform="translate(48 2127.83) rotate(-90)" textLength="85.71" lengthAdjust="spacingAndGlyphs" style="font-family:'Liberation Sans',sans-serif;font-size:18.32px" fill="#000">Vsw(km/s)</text>
<polyline points="117.6,2511.7 313.33,2514.4 509.06,2511.9 704.79,2512.9 900.52,2512.9 1096.25,2513.8 1291.98,2515.6 1487.71,2517.9 1683.44,2516.1" fill="none" stroke="#0000ff" stroke-width="2.08" stroke-linecap="butt" stroke-linejoin="round"/>
<rect x="117" y="2306" width="1566" height="222" fill="none" stroke="#000" stroke-width="2"/>
<path d="M117.5 2528V2519.7M117.5 2306V2314.3" fill="none" stroke="#000" stroke-width="1"/>
<text x="67.94" y="2550.5" textLength="99.53" lengthAdjust="spacingAndGlyphs" style="font-family:'Liberation Sans',sans-serif;font-size:18.32px" fill="#000">07/04 22:37</text>
<path d="M313.5 2528V2519.7M313.5 2306V2314.3" fill="none" stroke="#000" stroke-width="1"/>
<text x="263.53" y="2550.5" textLength="99.69" lengthAdjust="spacingAndGlyphs" style="font-family:'Liberation Sans',sans-serif;font-size:18.32px" fill="#000">07/04 22:38</text>
<path d="M509.5 2528V2519.7M509.5 2306V2314.3" fill="none" stroke="#000" stroke-width="1"/>
<text x="459.27" y="2550.5" textLength="99.73" lengthAdjust="spacingAndGlyphs" style="font-family:'Liberation Sans',sans-serif;font-size:18.32px" fill="#000">07/04 22:39</text>
<path d="M704.5 2528V2519.7M704.5 2306V2314.3" fill="none" stroke="#000" stroke-width="1"/>
<text x="654.97" y="2550.5" textLength="99.64" lengthAdjust="spacingAndGlyphs" style="font-family:'Liberation Sans',sans-serif;font-size:18.32px" fill="#000">07/04 22:40</text>
<path d="M900.5 2528V2519.7M900.5 2306V2314.3" fill="none" stroke="#000" stroke-width="1"/>
<text x="850.92" y="2550.5" textLength="99.39" lengthAdjust="spacingAndGlyphs" style="font-family:'Liberation Sans',sans-serif;font-size:18.32px" fill="#000">07/04 22:41</text>
<path d="M1096.5 2528V2519.7M1096.5 2306V2314.3" fill="none" stroke="#000" stroke-width="1"/>
<text x="1046.71" y="2550.5" textLength="99.29" lengthAdjust="spacingAndGlyphs" style="font-family:'Liberation Sans',sans-serif;font-size:18.32px" fill="#000">07/04 22:42</text>
<path d="M1291.5 2528V2519.7M1291.5 2306V2314.3" fill="none" stroke="#000" stroke-width="1"/>
<text x="1242.28" y="2550.5" textLength="99.5" lengthAdjust="spacingAndGlyphs" style="font-family:'Liberation Sans',sans-serif;font-size:18.32px" fill="#000">07/04 22:43</text>
<path d="M1487.5 2528V2519.7M1487.5 2306V2314.3" fill="none" stroke="#000" stroke-width="1"/>
<text x="1437.81" y="2550.5" textLength="99.62" lengthAdjust="spacingAndGlyphs" style="font-family:'Liberation Sans',sans-serif;font-size:18.32px" fill="#000">07/04 22:44</text>
<path d="M1683.5 2528V2519.7M1683.5 2306V2314.3" fill="none" stroke="#000" stroke-width="1"/>
<text x="1633.8" y="2550.5" textLength="99.34" lengthAdjust="spacingAndGlyphs" style="font-family:'Liberation Sans',sans-serif;font-size:18.32px" fill="#000">07/04 22:45</text>
<path d="M117 2528.5H125.3M1683 2528.5H1674.7" fill="none" stroke="#000" stroke-width="1"/>
<text x="98.51" y="2533.4" textLength="9.67" lengthAdjust="spacingAndGlyphs" style="font-family:'Liberation Sans',sans-serif;font-size:18.32px" fill="#000">0</text>
<path d="M117 2484.5H125.3M1683 2484.5H1674.7" fill="none" stroke="#000" stroke-width="1"/>
<text x="98.65" y="2489" textLength="9.24" lengthAdjust="spacingAndGlyphs" style="font-family:'Liberation Sans',sans-serif;font-size:18.32px" fill="#000">1</text>
<path d="M117 2439.5H125.3M1683 2439.5H1674.7" fill="none" stroke="#000" stroke-width="1"/>
<text x="98.47" y="2444.6" textLength="9.32" lengthAdjust="spacingAndGlyphs" style="font-family:'Liberation Sans',sans-serif;font-size:18.32px" fill="#000">2</text>
<path d="M117 2395.5H125.3M1683 2395.5H1674.7" fill="none" stroke="#000" stroke-width="1"/>
<text x="98.72" y="2400.2" textLength="9.29" lengthAdjust="spacingAndGlyphs" style="font-family:'Liberation Sans',sans-serif;font-size:18.32px" fill="#000">3</text>
<path d="M117 2350.5H125.3M1683 2350.5H1674.7" fill="none" stroke="#000" stroke-width="1"/>
<text x="98.51" y="2355.8" textLength="9.67" lengthAdjust="spacingAndGlyphs" style="font-family:'Liberation Sans',sans-serif;font-size:18.32px" fill="#000">4</text>
<path d="M117 2306.5H125.3M1683 2306.5H1674.7" fill="none" stroke="#000" stroke-width="1"/>
<text x="98.72" y="2311.4" textLength="9.13" lengthAdjust="spacingAndGlyphs" style="font-family:'Liberation Sans',sans-serif;font-size:18.32px" fill="#000">5</text>
<text x="828.54" y="2294.8" textLength="140.88" lengthAdjust="spacingAndGlyphs" style="font-family:'Liberation Sans',sans-serif;font-size:24.15px" fill="#000">Plasma Beta</text>
<rect x="1608" y="2313" width="68" height="30.7" fill="#fff" stroke="#000" stroke-width="2"/>
<polyline points="1617,2327 1640,2327" fill="none" stroke="#0000ff" stroke-width="2.08" stroke-linecap="butt" stroke-linejoin="round"/>
<text x="1656.19" y="2331.2" textLength="8.84" lengthAdjust="spacingAndGlyphs" style="font-family:'Liberation Serif',sans-serif;font-size:16px;font-style:italic" fill="#333">β</text>
<text x="1665.15" y="2333.6" textLength="4.73" lengthAdjust="spacingAndGlyphs" style="font-family:'Liberation Serif',sans-serif;font-size:10.5px;font-style:italic" fill="#333">p</text>
<text x="0" y="0" transform="translate(80.5 2451.67) rotate(-90)" textLength="10.2" lengthAdjust="spacingAndGlyphs" style="font-family:'Liberation Serif',sans-serif;font-size:16.5px;font-style:italic" fill="#333">β</text>
<text x="0" y="0" transform="translate(83 2441.73) rotate(-90)" textLength="5.68" lengthAdjust="spacingAndGlyphs" style="font-family:'Liberation Serif',sans-serif;font-size:11px;font-style:italic" fill="#333">p</text>
<text x="0" y="0" transform="translate(80 2431.11) rotate(-90)" textLength="31.84" lengthAdjust="spacingAndGlyphs" style="font-family:'Liberation Sans',sans-serif;font-size:17.3px" fill="#000">and</text>
<text x="0" y="0" transform="translate(80.5 2393.2) rotate(-90)" textLength="9.23" lengthAdjust="spacingAndGlyphs" style="font-family:'Liberation Serif',sans-serif;font-size:16.5px;font-style:italic" fill="#333">β</text>
<polyline points="117.6,2852.6 313.33,2852.3 509.06,2851.9 704.79,2852 900.52,2852.3 1096.25,2852.3 1291.98,2852.6 1487.71,2852.6 1683.44,2852.6" fill="none" stroke="#0000ff" stroke-width="2.08" stroke-linecap="butt" stroke-linejoin="round"/>
<rect x="117" y="2640" width="1566" height="222" fill="none" stroke="#000" stroke-width="2"/>
<path d="M117.5 2862V2853.7M117.5 2640V2648.3" fill="none" stroke="#000" stroke-width="1"/>
<text x="67.94" y="2884.5" textLength="99.53" lengthAdjust="spacingAndGlyphs" style="font-family:'Liberation Sans',sans-serif;font-size:18.32px" fill="#000">07/04 22:37</text>
<path d="M313.5 2862V2853.7M313.5 2640V2648.3" fill="none" stroke="#000" stroke-width="1"/>
<text x="263.53" y="2884.5" textLength="99.69" lengthAdjust="spacingAndGlyphs" style="font-family:'Liberation Sans',sans-serif;font-size:18.32px" fill="#000">07/04 22:38</text>
<path d="M509.5 2862V2853.7M509.5 2640V2648.3" fill="none" stroke="#000" stroke-width="1"/>
<text x="459.27" y="2884.5" textLength="99.73" lengthAdjust="spacingAndGlyphs" style="font-family:'Liberation Sans',sans-serif;font-size:18.32px" fill="#000">07/04 22:39</text>
<path d="M704.5 2862V2853.7M704.5 2640V2648.3" fill="none" stroke="#000" stroke-width="1"/>
<text x="654.97" y="2884.5" textLength="99.64" lengthAdjust="spacingAndGlyphs" style="font-family:'Liberation Sans',sans-serif;font-size:18.32px" fill="#000">07/04 22:40</text>
<path d="M900.5 2862V2853.7M900.5 2640V2648.3" fill="none" stroke="#000" stroke-width="1"/>
<text x="850.92" y="2884.5" textLength="99.39" lengthAdjust="spacingAndGlyphs" style="font-family:'Liberation Sans',sans-serif;font-size:18.32px" fill="#000">07/04 22:41</text>
<path d="M1096.5 2862V2853.7M1096.5 2640V2648.3" fill="none" stroke="#000" stroke-width="1"/>
<text x="1046.71" y="2884.5" textLength="99.29" lengthAdjust="spacingAndGlyphs" style="font-family:'Liberation Sans',sans-serif;font-size:18.32px" fill="#000">07/04 22:42</text>
<path d="M1291.5 2862V2853.7M1291.5 2640V2648.3" fill="none" stroke="#000" stroke-width="1"/>
<text x="1242.28" y="2884.5" textLength="99.5" lengthAdjust="spacingAndGlyphs" style="font-family:'Liberation Sans',sans-serif;font-size:18.32px" fill="#000">07/04 22:43</text>
<path d="M1487.5 2862V2853.7M1487.5 2640V2648.3" fill="none" stroke="#000" stroke-width="1"/>
<text x="1437.81" y="2884.5" textLength="99.62" lengthAdjust="spacingAndGlyphs" style="font-family:'Liberation Sans',sans-serif;font-size:18.32px" fill="#000">07/04 22:44</text>
<path d="M1683.5 2862V2853.7M1683.5 2640V2648.3" fill="none" stroke="#000" stroke-width="1"/>
<text x="1633.8" y="2884.5" textLength="99.34" lengthAdjust="spacingAndGlyphs" style="font-family:'Liberation Sans',sans-serif;font-size:18.32px" fill="#000">07/04 22:45</text>
<path d="M117 2862.5H125.3M1683 2862.5H1674.7" fill="none" stroke="#000" stroke-width="1"/>
<text x="98.51" y="2867.4" textLength="9.67" lengthAdjust="spacingAndGlyphs" style="font-family:'Liberation Sans',sans-serif;font-size:18.32px" fill="#000">0</text>
<path d="M117 2834.5H125.3M1683 2834.5H1674.7" fill="none" stroke="#000" stroke-width="1"/>
<text x="98.72" y="2839.65" textLength="9.13" lengthAdjust="spacingAndGlyphs" style="font-family:'Liberation Sans',sans-serif;font-size:18.32px" fill="#000">5</text>
<path d="M117 2806.5H125.3M1683 2806.5H1674.7" fill="none" stroke="#000" stroke-width="1"/>
<text x="88.04" y="2811.9" textLength="20.18" lengthAdjust="spacingAndGlyphs" style="font-family:'Liberation Sans',sans-serif;font-size:18.32px" fill="#000">10</text>
<path d="M117 2779.5H125.3M1683 2779.5H1674.7" fill="none" stroke="#000" stroke-width="1"/>
<text x="88.06" y="2784.15" textLength="19.85" lengthAdjust="spacingAndGlyphs" style="font-family:'Liberation Sans',sans-serif;font-size:18.32px" fill="#000">15</text>
<path d="M117 2751.5H125.3M1683 2751.5H1674.7" fill="none" stroke="#000" stroke-width="1"/>
<text x="87.89" y="2756.4" textLength="20.32" lengthAdjust="spacingAndGlyphs" style="font-family:'Liberation Sans',sans-serif;font-size:18.32px" fill="#000">20</text>
<path d="M117 2723.5H125.3M1683 2723.5H1674.7" fill="none" stroke="#000" stroke-width="1"/>
<text x="87.91" y="2728.65" textLength="20" lengthAdjust="spacingAndGlyphs" style="font-family:'Liberation Sans',sans-serif;font-size:18.32px" fill="#000">25</text>
<path d="M117 2695.5H125.3M1683 2695.5H1674.7" fill="none" stroke="#000" stroke-width="1"/>
<text x="88.18" y="2700.9" textLength="20.03" lengthAdjust="spacingAndGlyphs" style="font-family:'Liberation Sans',sans-serif;font-size:18.32px" fill="#000">30</text>
<path d="M117 2668.5H125.3M1683 2668.5H1674.7" fill="none" stroke="#000" stroke-width="1"/>
<text x="88.19" y="2673.15" textLength="19.72" lengthAdjust="spacingAndGlyphs" style="font-family:'Liberation Sans',sans-serif;font-size:18.32px" fill="#000">35</text>
<path d="M117 2640.5H125.3M1683 2640.5H1674.7" fill="none" stroke="#000" stroke-width="1"/>
<text x="87.99" y="2645.4" textLength="20.22" lengthAdjust="spacingAndGlyphs" style="font-family:'Liberation Sans',sans-serif;font-size:18.32px" fill="#000">40</text>
<text x="764.59" y="2628.8" textLength="268.75" lengthAdjust="spacingAndGlyphs" style="font-family:'Liberation Sans',sans-serif;font-size:24.15px" fill="#000">Proton Number Density</text>
<text x="0" y="0" transform="translate(74.1 2789.27) rotate(-90)" textLength="72.96" lengthAdjust="spacingAndGlyphs" style="font-family:'Liberation Sans',sans-serif;font-size:18.32px" fill="#000">Np(#/cc)</text>
<polyline points="117.6,3100 313.33,3118.1 509.06,3105.3 704.79,3108.4 900.52,3105.6 1096.25,3110.2 1291.98,3120 1487.71,3129.4 1683.44,3114.6" fill="none" stroke="#0000ff" stroke-width="2.08" stroke-linecap="butt" stroke-linejoin="round"/>
<rect x="117" y="2973" width="1566" height="222" fill="none" stroke="#000" stroke-width="2"/>
<path d="M117.5 3195V3186.7M117.5 2973V2981.3" fill="none" stroke="#000" stroke-width="1"/>
<text x="67.94" y="3217.5" textLength="99.53" lengthAdjust="spacingAndGlyphs" style="font-family:'Liberation Sans',sans-serif;font-size:18.32px" fill="#000">07/04 22:37</text>
<path d="M313.5 3195V3186.7M313.5 2973V2981.3" fill="none" stroke="#000" stroke-width="1"/>
<text x="263.53" y="3217.5" textLength="99.69" lengthAdjust="spacingAndGlyphs" style="font-family:'Liberation Sans',sans-serif;font-size:18.32px" fill="#000">07/04 22:38</text>
<path d="M509.5 3195V3186.7M509.5 2973V2981.3" fill="none" stroke="#000" stroke-width="1"/>
<text x="459.27" y="3217.5" textLength="99.73" lengthAdjust="spacingAndGlyphs" style="font-family:'Liberation Sans',sans-serif;font-size:18.32px" fill="#000">07/04 22:39</text>
<path d="M704.5 3195V3186.7M704.5 2973V2981.3" fill="none" stroke="#000" stroke-width="1"/>
<text x="654.97" y="3217.5" textLength="99.64" lengthAdjust="spacingAndGlyphs" style="font-family:'Liberation Sans',sans-serif;font-size:18.32px" fill="#000">07/04 22:40</text>
<path d="M900.5 3195V3186.7M900.5 2973V2981.3" fill="none" stroke="#000" stroke-width="1"/>
<text x="850.92" y="3217.5" textLength="99.39" lengthAdjust="spacingAndGlyphs" style="font-family:'Liberation Sans',sans-serif;font-size:18.32px" fill="#000">07/04 22:41</text>
<path d="M1096.5 3195V3186.7M1096.5 2973V2981.3" fill="none" stroke="#000" stroke-width="1"/>
<text x="1046.71" y="3217.5" textLength="99.29" lengthAdjust="spacingAndGlyphs" style="font-family:'Liberation Sans',sans-serif;font-size:18.32px" fill="#000">07/04 22:42</text>
<path d="M1291.5 3195V3186.7M1291.5 2973V2981.3" fill="none" stroke="#000" stroke-width="1"/>
<text x="1242.28" y="3217.5" textLength="99.5" lengthAdjust="spacingAndGlyphs" style="font-family:'Liberation Sans',sans-serif;font-size:18.32px" fill="#000">07/04 22:43</text>
<path d="M1487.5 3195V3186.7M1487.5 2973V2981.3" fill="none" stroke="#000" stroke-width="1"/>
<text x="1437.81" y="3217.5" textLength="99.62" lengthAdjust="spacingAndGlyphs" style="font-family:'Liberation Sans',sans-serif;font-size:18.32px" fill="#000">07/04 22:44</text>
<path d="M1683.5 3195V3186.7M1683.5 2973V2981.3" fill="none" stroke="#000" stroke-width="1"/>
<text x="1633.8" y="3217.5" textLength="99.34" lengthAdjust="spacingAndGlyphs" style="font-family:'Liberation Sans',sans-serif;font-size:18.32px" fill="#000">07/04 22:45</text>
<path d="M117 3195.5H125.3M1683 3195.5H1674.7" fill="none" stroke="#000" stroke-width="1"/>
<text x="82.73" y="3200.4" textLength="25.49" lengthAdjust="spacingAndGlyphs" style="font-family:'Liberation Sans',sans-serif;font-size:18.32px" fill="#000">0.0</text>
<path d="M117 3151.5H125.3M1683 3151.5H1674.7" fill="none" stroke="#000" stroke-width="1"/>
<text x="82.74" y="3156" textLength="25.22" lengthAdjust="spacingAndGlyphs" style="font-family:'Liberation Sans',sans-serif;font-size:18.32px" fill="#000">0.1</text>
<path d="M117 3106.5H125.3M1683 3106.5H1674.7" fill="none" stroke="#000" stroke-width="1"/>
<text x="82.74" y="3111.6" textLength="25.12" lengthAdjust="spacingAndGlyphs" style="font-family:'Liberation Sans',sans-serif;font-size:18.32px" fill="#000">0.2</text>
<path d="M117 3062.5H125.3M1683 3062.5H1674.7" fill="none" stroke="#000" stroke-width="1"/>
<text x="82.73" y="3067.2" textLength="25.34" lengthAdjust="spacingAndGlyphs" style="font-family:'Liberation Sans',sans-serif;font-size:18.32px" fill="#000">0.3</text>
<path d="M117 3017.5H125.3M1683 3017.5H1674.7" fill="none" stroke="#000" stroke-width="1"/>
<text x="82.73" y="3022.8" textLength="25.48" lengthAdjust="spacingAndGlyphs" style="font-family:'Liberation Sans',sans-serif;font-size:18.32px" fill="#000">0.4</text>
<path d="M117 2973.5H125.3M1683 2973.5H1674.7" fill="none" stroke="#000" stroke-width="1"/>
<text x="82.74" y="2978.4" textLength="25.18" lengthAdjust="spacingAndGlyphs" style="font-family:'Liberation Sans',sans-serif;font-size:18.32px" fill="#000">0.5</text>
<rect x="123.4" y="2980" width="71.7" height="27" fill="#fff" stroke="#000" stroke-width="2"/>
<polyline points="134,2992.9 155.9,2992.9" fill="none" stroke="#0000ff" stroke-width="2.08" stroke-linecap="butt" stroke-linejoin="round"/>
<text x="170.75" y="2998" textLength="18.32" lengthAdjust="spacingAndGlyphs" style="font-family:'Liberation Sans',sans-serif;font-size:16.67px" fill="#000">Tp</text>
<text x="0" y="0" transform="translate(63.9 3118.27) rotate(-90)" textLength="24.56" lengthAdjust="spacingAndGlyphs" style="font-family:'Liberation Sans',sans-serif;font-size:17.3px" fill="#000">Tp(</text>
<text x="0" y="0" transform="translate(63.9 3092.51) rotate(-90)" textLength="17.16" lengthAdjust="spacingAndGlyphs" style="font-family:'Liberation Serif',sans-serif;font-size:17.5px" fill="#000">10</text>
<text x="0" y="0" transform="translate(57.8 3075.16) rotate(-90)" textLength="6.55" lengthAdjust="spacingAndGlyphs" style="font-family:'Liberation Serif',sans-serif;font-size:11.5px" fill="#222">6</text>
<text x="0" y="0" transform="translate(63.9 3068.34) rotate(-90)" textLength="17.52" lengthAdjust="spacingAndGlyphs" style="font-family:'Liberation Sans',sans-serif;font-size:17.3px" fill="#000">K)</text>
<text x="726.87" y="2961.3" textLength="282.52" lengthAdjust="spacingAndGlyphs" style="font-family:'Liberation Sans',sans-serif;font-size:24.15px" fill="#000">Proton Temperature and</text>
<text x="1013.92" y="2961.3" textLength="16.79" lengthAdjust="spacingAndGlyphs" style="font-family:'Liberation Serif',sans-serif;font-size:23px;font-style:italic" fill="#111">T</text>
<text x="1032.74" y="2963.5" textLength="6.59" lengthAdjust="spacingAndGlyphs" style="font-family:'Liberation Serif',sans-serif;font-size:15px;font-style:italic" fill="#111">e</text>
<path d="M1040.8 2966L1048.7 2945.6" fill="none" stroke="#111" stroke-width="1.2"/>
<text x="1049.13" y="2961.3" textLength="11.63" lengthAdjust="spacingAndGlyphs" style="font-family:'Liberation Serif',sans-serif;font-size:23px;font-style:italic" fill="#111">T</text>
<text x="1063" y="2963.5" textLength="8.52" lengthAdjust="spacingAndGlyphs" style="font-family:'Liberation Serif',sans-serif;font-size:15px;font-style:italic" fill="#111">p</text>
</svg>
</body></html>
